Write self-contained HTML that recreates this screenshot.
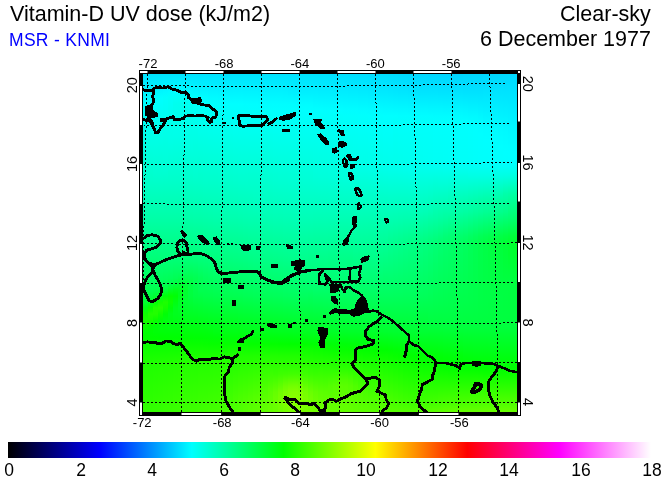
<!DOCTYPE html>
<html><head><meta charset="utf-8"><title>Vitamin-D UV dose</title>
<style>
html,body{margin:0;padding:0;background:#fff;}
body{width:665px;height:480px;position:relative;overflow:hidden;font-family:"Liberation Sans",sans-serif;color:#000;}
.t{position:absolute;white-space:nowrap;line-height:1;will-change:transform;}
#title{left:10px;top:4.3px;font-size:21.5px;}
#sub{left:8.6px;top:31.7px;font-size:17.5px;color:#0000ff;letter-spacing:0.3px;}
#r1{right:14px;top:4.3px;font-size:21.5px;}
#r2{right:14px;top:28.6px;font-size:21.5px;}
#cb{position:absolute;left:8px;top:442px;width:643px;height:16px;background:linear-gradient(to right,#000000 0.000%,#0000ff 14.286%,#00ffff 28.571%,#00ff00 42.857%,#ffff00 57.143%,#ff0000 71.429%,#ff00ff 85.714%,#ffffff 100.000%);}
.cl{will-change:transform;position:absolute;top:461.5px;font-size:17.5px;line-height:1;transform:translateX(-50%);white-space:nowrap;}
</style></head><body>
<div class="t" id="title">Vitamin-D UV dose (kJ/m2)</div>
<div class="t" id="sub">MSR - KNMI</div>
<div class="t" id="r1">Clear-sky</div>
<div class="t" id="r2">6 December 1977</div>
<svg width="665" height="480" viewBox="0 0 665 480" style="position:absolute;left:0;top:0;will-change:transform"><defs><linearGradient id="g0" x1="0" y1="0" x2="0" y2="1"><stop offset="0.000" stop-color="#00e3ff"/><stop offset="0.071" stop-color="#00fbff"/><stop offset="0.089" stop-color="#00fffe"/><stop offset="0.320" stop-color="#00ffc9"/><stop offset="0.426" stop-color="#00ffa8"/><stop offset="0.639" stop-color="#00ff50"/><stop offset="0.657" stop-color="#00ff43"/><stop offset="0.675" stop-color="#00ff30"/><stop offset="0.692" stop-color="#00ff11"/><stop offset="0.710" stop-color="#0fff00"/><stop offset="0.728" stop-color="#17ff00"/><stop offset="0.746" stop-color="#08ff00"/><stop offset="0.763" stop-color="#00ff01"/><stop offset="0.781" stop-color="#02ff00"/><stop offset="0.852" stop-color="#1eff00"/><stop offset="1.000" stop-color="#32ff00"/></linearGradient><linearGradient id="g1" x1="0" y1="0" x2="0" y2="1"><stop offset="0.000" stop-color="#00e3ff"/><stop offset="0.071" stop-color="#00fcff"/><stop offset="0.089" stop-color="#00fffd"/><stop offset="0.320" stop-color="#00ffc9"/><stop offset="0.426" stop-color="#00ffa8"/><stop offset="0.621" stop-color="#00ff59"/><stop offset="0.639" stop-color="#00ff50"/><stop offset="0.657" stop-color="#00ff3f"/><stop offset="0.675" stop-color="#00ff21"/><stop offset="0.692" stop-color="#09ff00"/><stop offset="0.710" stop-color="#21ff00"/><stop offset="0.728" stop-color="#16ff00"/><stop offset="0.746" stop-color="#01ff00"/><stop offset="0.763" stop-color="#00ff04"/><stop offset="0.781" stop-color="#01ff00"/><stop offset="0.852" stop-color="#1eff00"/><stop offset="1.000" stop-color="#32ff00"/></linearGradient><linearGradient id="g2" x1="0" y1="0" x2="0" y2="1"><stop offset="0.000" stop-color="#00e3ff"/><stop offset="0.071" stop-color="#00fdff"/><stop offset="0.089" stop-color="#00fffb"/><stop offset="0.302" stop-color="#00ffcf"/><stop offset="0.426" stop-color="#00ffa8"/><stop offset="0.621" stop-color="#00ff58"/><stop offset="0.639" stop-color="#00ff4d"/><stop offset="0.657" stop-color="#00ff34"/><stop offset="0.675" stop-color="#00ff08"/><stop offset="0.692" stop-color="#21ff00"/><stop offset="0.710" stop-color="#22ff00"/><stop offset="0.728" stop-color="#09ff00"/><stop offset="0.746" stop-color="#00ff07"/><stop offset="0.763" stop-color="#00ff07"/><stop offset="0.781" stop-color="#01ff00"/><stop offset="0.852" stop-color="#1fff00"/><stop offset="1.000" stop-color="#34ff00"/></linearGradient><linearGradient id="g3" x1="0" y1="0" x2="0" y2="1"><stop offset="0.000" stop-color="#00e3ff"/><stop offset="0.053" stop-color="#00f7ff"/><stop offset="0.071" stop-color="#00fffe"/><stop offset="0.302" stop-color="#00ffcf"/><stop offset="0.426" stop-color="#00ffa8"/><stop offset="0.550" stop-color="#00ff76"/><stop offset="0.621" stop-color="#00ff56"/><stop offset="0.639" stop-color="#00ff46"/><stop offset="0.657" stop-color="#00ff20"/><stop offset="0.675" stop-color="#13ff00"/><stop offset="0.692" stop-color="#26ff00"/><stop offset="0.710" stop-color="#11ff00"/><stop offset="0.728" stop-color="#00ff06"/><stop offset="0.746" stop-color="#00ff0d"/><stop offset="0.763" stop-color="#00ff08"/><stop offset="0.781" stop-color="#00ff00"/><stop offset="0.852" stop-color="#20ff00"/><stop offset="1.000" stop-color="#35ff00"/></linearGradient><linearGradient id="g4" x1="0" y1="0" x2="0" y2="1"><stop offset="0.000" stop-color="#00e3ff"/><stop offset="0.053" stop-color="#00f9ff"/><stop offset="0.071" stop-color="#00fffb"/><stop offset="0.284" stop-color="#00ffd4"/><stop offset="0.426" stop-color="#00ffa8"/><stop offset="0.550" stop-color="#00ff76"/><stop offset="0.621" stop-color="#00ff52"/><stop offset="0.639" stop-color="#00ff38"/><stop offset="0.657" stop-color="#00ff08"/><stop offset="0.675" stop-color="#1dff00"/><stop offset="0.692" stop-color="#14ff00"/><stop offset="0.710" stop-color="#00ff06"/><stop offset="0.728" stop-color="#00ff10"/><stop offset="0.763" stop-color="#00ff09"/><stop offset="0.781" stop-color="#00ff00"/><stop offset="0.799" stop-color="#09ff00"/><stop offset="0.852" stop-color="#20ff00"/><stop offset="1.000" stop-color="#37ff00"/></linearGradient><linearGradient id="g5" x1="0" y1="0" x2="0" y2="1"><stop offset="0.000" stop-color="#00e3ff"/><stop offset="0.053" stop-color="#00fbff"/><stop offset="0.071" stop-color="#00fff8"/><stop offset="0.107" stop-color="#00fff1"/><stop offset="0.195" stop-color="#00ffe6"/><stop offset="0.320" stop-color="#00ffc9"/><stop offset="0.426" stop-color="#00ffa8"/><stop offset="0.550" stop-color="#00ff76"/><stop offset="0.604" stop-color="#00ff59"/><stop offset="0.621" stop-color="#00ff4a"/><stop offset="0.639" stop-color="#00ff26"/><stop offset="0.657" stop-color="#04ff00"/><stop offset="0.675" stop-color="#0dff00"/><stop offset="0.692" stop-color="#00ff08"/><stop offset="0.710" stop-color="#00ff16"/><stop offset="0.746" stop-color="#00ff11"/><stop offset="0.781" stop-color="#00ff01"/><stop offset="0.799" stop-color="#09ff00"/><stop offset="0.852" stop-color="#21ff00"/><stop offset="1.000" stop-color="#38ff00"/></linearGradient><linearGradient id="g6" x1="0" y1="0" x2="0" y2="1"><stop offset="0.000" stop-color="#00e3ff"/><stop offset="0.053" stop-color="#00fcff"/><stop offset="0.071" stop-color="#00fff6"/><stop offset="0.089" stop-color="#00ffef"/><stop offset="0.178" stop-color="#00ffe9"/><stop offset="0.320" stop-color="#00ffc9"/><stop offset="0.426" stop-color="#00ffa8"/><stop offset="0.550" stop-color="#00ff75"/><stop offset="0.604" stop-color="#00ff55"/><stop offset="0.621" stop-color="#00ff40"/><stop offset="0.639" stop-color="#00ff1c"/><stop offset="0.657" stop-color="#00ff06"/><stop offset="0.692" stop-color="#00ff1d"/><stop offset="0.710" stop-color="#00ff1e"/><stop offset="0.781" stop-color="#00ff02"/><stop offset="0.799" stop-color="#09ff00"/><stop offset="0.852" stop-color="#22ff00"/><stop offset="1.000" stop-color="#3aff00"/></linearGradient><linearGradient id="g7" x1="0" y1="0" x2="0" y2="1"><stop offset="0.000" stop-color="#00e3ff"/><stop offset="0.053" stop-color="#00fdff"/><stop offset="0.071" stop-color="#00fff5"/><stop offset="0.089" stop-color="#00ffee"/><stop offset="0.178" stop-color="#00ffe9"/><stop offset="0.320" stop-color="#00ffc9"/><stop offset="0.426" stop-color="#00ffa8"/><stop offset="0.550" stop-color="#00ff75"/><stop offset="0.586" stop-color="#00ff60"/><stop offset="0.604" stop-color="#00ff50"/><stop offset="0.639" stop-color="#00ff20"/><stop offset="0.657" stop-color="#00ff1d"/><stop offset="0.675" stop-color="#00ff26"/><stop offset="0.692" stop-color="#00ff28"/><stop offset="0.781" stop-color="#00ff02"/><stop offset="0.799" stop-color="#09ff00"/><stop offset="0.852" stop-color="#23ff00"/><stop offset="1.000" stop-color="#3bff00"/></linearGradient><linearGradient id="g8" x1="0" y1="0" x2="0" y2="1"><stop offset="0.000" stop-color="#00e3ff"/><stop offset="0.053" stop-color="#00fcff"/><stop offset="0.071" stop-color="#00fff6"/><stop offset="0.089" stop-color="#00ffef"/><stop offset="0.178" stop-color="#00ffe9"/><stop offset="0.320" stop-color="#00ffc9"/><stop offset="0.426" stop-color="#00ffa8"/><stop offset="0.550" stop-color="#00ff75"/><stop offset="0.586" stop-color="#00ff5e"/><stop offset="0.621" stop-color="#00ff39"/><stop offset="0.639" stop-color="#00ff2f"/><stop offset="0.675" stop-color="#00ff33"/><stop offset="0.781" stop-color="#00ff02"/><stop offset="0.799" stop-color="#09ff00"/><stop offset="0.852" stop-color="#23ff00"/><stop offset="1.000" stop-color="#3cff00"/></linearGradient><linearGradient id="g9" x1="0" y1="0" x2="0" y2="1"><stop offset="0.000" stop-color="#00e3ff"/><stop offset="0.053" stop-color="#00faff"/><stop offset="0.071" stop-color="#00fff8"/><stop offset="0.107" stop-color="#00fff1"/><stop offset="0.213" stop-color="#00ffe1"/><stop offset="0.320" stop-color="#00ffc9"/><stop offset="0.426" stop-color="#00ffa9"/><stop offset="0.550" stop-color="#00ff75"/><stop offset="0.621" stop-color="#00ff42"/><stop offset="0.657" stop-color="#00ff3e"/><stop offset="0.781" stop-color="#00ff03"/><stop offset="0.799" stop-color="#08ff00"/><stop offset="0.852" stop-color="#23ff00"/><stop offset="1.000" stop-color="#3dff00"/></linearGradient><linearGradient id="g10" x1="0" y1="0" x2="0" y2="1"><stop offset="0.000" stop-color="#00e3ff"/><stop offset="0.053" stop-color="#00f8ff"/><stop offset="0.071" stop-color="#00fffb"/><stop offset="0.124" stop-color="#00fff1"/><stop offset="0.302" stop-color="#00ffcf"/><stop offset="0.426" stop-color="#00ffaa"/><stop offset="0.550" stop-color="#00ff76"/><stop offset="0.604" stop-color="#00ff52"/><stop offset="0.657" stop-color="#00ff44"/><stop offset="0.728" stop-color="#00ff1c"/><stop offset="0.781" stop-color="#00ff04"/><stop offset="0.799" stop-color="#08ff00"/><stop offset="0.852" stop-color="#23ff00"/><stop offset="1.000" stop-color="#3eff00"/></linearGradient><linearGradient id="g11" x1="0" y1="0" x2="0" y2="1"><stop offset="0.000" stop-color="#00e3ff"/><stop offset="0.053" stop-color="#00f6ff"/><stop offset="0.071" stop-color="#00ffff"/><stop offset="0.320" stop-color="#00ffca"/><stop offset="0.426" stop-color="#00ffaa"/><stop offset="0.550" stop-color="#00ff78"/><stop offset="0.604" stop-color="#00ff58"/><stop offset="0.639" stop-color="#00ff50"/><stop offset="0.728" stop-color="#00ff1e"/><stop offset="0.781" stop-color="#00ff04"/><stop offset="0.799" stop-color="#08ff00"/><stop offset="0.852" stop-color="#24ff00"/><stop offset="1.000" stop-color="#40ff00"/></linearGradient><linearGradient id="g12" x1="0" y1="0" x2="0" y2="1"><stop offset="0.000" stop-color="#00e3ff"/><stop offset="0.071" stop-color="#00fdff"/><stop offset="0.089" stop-color="#00fffb"/><stop offset="0.320" stop-color="#00ffcb"/><stop offset="0.426" stop-color="#00ffab"/><stop offset="0.550" stop-color="#00ff79"/><stop offset="0.604" stop-color="#00ff5d"/><stop offset="0.657" stop-color="#00ff49"/><stop offset="0.728" stop-color="#00ff1f"/><stop offset="0.781" stop-color="#00ff05"/><stop offset="0.799" stop-color="#07ff00"/><stop offset="0.852" stop-color="#24ff00"/><stop offset="1.000" stop-color="#41ff00"/></linearGradient><linearGradient id="g13" x1="0" y1="0" x2="0" y2="1"><stop offset="0.000" stop-color="#00e3ff"/><stop offset="0.071" stop-color="#00fbff"/><stop offset="0.089" stop-color="#00fffd"/><stop offset="0.320" stop-color="#00ffcb"/><stop offset="0.426" stop-color="#00ffac"/><stop offset="0.550" stop-color="#00ff7b"/><stop offset="0.604" stop-color="#00ff60"/><stop offset="0.657" stop-color="#00ff4a"/><stop offset="0.728" stop-color="#00ff21"/><stop offset="0.781" stop-color="#00ff06"/><stop offset="0.799" stop-color="#06ff00"/><stop offset="0.852" stop-color="#24ff00"/><stop offset="1.000" stop-color="#43ff00"/></linearGradient><linearGradient id="g14" x1="0" y1="0" x2="0" y2="1"><stop offset="0.000" stop-color="#00e3ff"/><stop offset="0.071" stop-color="#00fbff"/><stop offset="0.089" stop-color="#00fffe"/><stop offset="0.320" stop-color="#00ffcb"/><stop offset="0.426" stop-color="#00ffad"/><stop offset="0.550" stop-color="#00ff7c"/><stop offset="0.657" stop-color="#00ff4c"/><stop offset="0.728" stop-color="#00ff22"/><stop offset="0.763" stop-color="#00ff13"/><stop offset="0.781" stop-color="#00ff07"/><stop offset="0.799" stop-color="#06ff00"/><stop offset="0.852" stop-color="#25ff00"/><stop offset="1.000" stop-color="#44ff00"/></linearGradient><linearGradient id="g15" x1="0" y1="0" x2="0" y2="1"><stop offset="0.000" stop-color="#00e3ff"/><stop offset="0.071" stop-color="#00faff"/><stop offset="0.089" stop-color="#00fffe"/><stop offset="0.320" stop-color="#00ffcc"/><stop offset="0.426" stop-color="#00ffad"/><stop offset="0.550" stop-color="#00ff7d"/><stop offset="0.657" stop-color="#00ff4d"/><stop offset="0.728" stop-color="#00ff23"/><stop offset="0.763" stop-color="#00ff14"/><stop offset="0.781" stop-color="#00ff08"/><stop offset="0.799" stop-color="#06ff00"/><stop offset="0.852" stop-color="#25ff00"/><stop offset="1.000" stop-color="#46ff00"/></linearGradient><linearGradient id="g16" x1="0" y1="0" x2="0" y2="1"><stop offset="0.000" stop-color="#00e3ff"/><stop offset="0.071" stop-color="#00faff"/><stop offset="0.089" stop-color="#00ffff"/><stop offset="0.320" stop-color="#00ffcc"/><stop offset="0.426" stop-color="#00ffae"/><stop offset="0.550" stop-color="#00ff7e"/><stop offset="0.657" stop-color="#00ff4e"/><stop offset="0.728" stop-color="#00ff24"/><stop offset="0.763" stop-color="#00ff14"/><stop offset="0.781" stop-color="#00ff08"/><stop offset="0.799" stop-color="#05ff00"/><stop offset="0.852" stop-color="#25ff00"/><stop offset="1.000" stop-color="#47ff00"/></linearGradient><linearGradient id="g17" x1="0" y1="0" x2="0" y2="1"><stop offset="0.000" stop-color="#00e3ff"/><stop offset="0.071" stop-color="#00f9ff"/><stop offset="0.089" stop-color="#00ffff"/><stop offset="0.320" stop-color="#00ffcc"/><stop offset="0.426" stop-color="#00ffaf"/><stop offset="0.550" stop-color="#00ff7f"/><stop offset="0.657" stop-color="#00ff4f"/><stop offset="0.728" stop-color="#00ff25"/><stop offset="0.763" stop-color="#00ff15"/><stop offset="0.781" stop-color="#00ff09"/><stop offset="0.799" stop-color="#05ff00"/><stop offset="0.834" stop-color="#1eff00"/><stop offset="0.976" stop-color="#45ff00"/><stop offset="1.000" stop-color="#49ff00"/></linearGradient><linearGradient id="g18" x1="0" y1="0" x2="0" y2="1"><stop offset="0.000" stop-color="#00e3ff"/><stop offset="0.089" stop-color="#00ffff"/><stop offset="0.107" stop-color="#00fffc"/><stop offset="0.320" stop-color="#00ffcd"/><stop offset="0.426" stop-color="#00ffaf"/><stop offset="0.550" stop-color="#00ff80"/><stop offset="0.657" stop-color="#00ff50"/><stop offset="0.728" stop-color="#00ff26"/><stop offset="0.763" stop-color="#00ff16"/><stop offset="0.781" stop-color="#00ff09"/><stop offset="0.799" stop-color="#05ff00"/><stop offset="0.834" stop-color="#1eff00"/><stop offset="0.959" stop-color="#46ff00"/><stop offset="1.000" stop-color="#4dff00"/></linearGradient><linearGradient id="g19" x1="0" y1="0" x2="0" y2="1"><stop offset="0.000" stop-color="#00e3ff"/><stop offset="0.089" stop-color="#00ffff"/><stop offset="0.107" stop-color="#00fffc"/><stop offset="0.320" stop-color="#00ffce"/><stop offset="0.426" stop-color="#00ffb0"/><stop offset="0.550" stop-color="#00ff81"/><stop offset="0.657" stop-color="#00ff51"/><stop offset="0.781" stop-color="#00ff0a"/><stop offset="0.799" stop-color="#05ff00"/><stop offset="0.834" stop-color="#1fff00"/><stop offset="0.959" stop-color="#4aff00"/><stop offset="1.000" stop-color="#51ff00"/></linearGradient><linearGradient id="g20" x1="0" y1="0" x2="0" y2="1"><stop offset="0.000" stop-color="#00e3ff"/><stop offset="0.089" stop-color="#00feff"/><stop offset="0.107" stop-color="#00fffc"/><stop offset="0.320" stop-color="#00ffce"/><stop offset="0.426" stop-color="#00ffb1"/><stop offset="0.550" stop-color="#00ff82"/><stop offset="0.657" stop-color="#00ff53"/><stop offset="0.728" stop-color="#00ff29"/><stop offset="0.763" stop-color="#00ff18"/><stop offset="0.781" stop-color="#00ff0a"/><stop offset="0.799" stop-color="#05ff00"/><stop offset="0.834" stop-color="#1fff00"/><stop offset="0.959" stop-color="#4dff00"/><stop offset="1.000" stop-color="#55ff00"/></linearGradient><linearGradient id="g21" x1="0" y1="0" x2="0" y2="1"><stop offset="0.000" stop-color="#00e3ff"/><stop offset="0.089" stop-color="#00feff"/><stop offset="0.107" stop-color="#00fffd"/><stop offset="0.337" stop-color="#00ffca"/><stop offset="0.426" stop-color="#00ffb2"/><stop offset="0.550" stop-color="#00ff84"/><stop offset="0.657" stop-color="#00ff54"/><stop offset="0.728" stop-color="#00ff2a"/><stop offset="0.763" stop-color="#00ff19"/><stop offset="0.781" stop-color="#00ff0b"/><stop offset="0.799" stop-color="#04ff00"/><stop offset="0.834" stop-color="#1fff00"/><stop offset="0.959" stop-color="#51ff00"/><stop offset="1.000" stop-color="#59ff00"/></linearGradient><linearGradient id="g22" x1="0" y1="0" x2="0" y2="1"><stop offset="0.000" stop-color="#00e3ff"/><stop offset="0.089" stop-color="#00feff"/><stop offset="0.107" stop-color="#00fffd"/><stop offset="0.391" stop-color="#00ffbe"/><stop offset="0.550" stop-color="#00ff85"/><stop offset="0.657" stop-color="#00ff56"/><stop offset="0.728" stop-color="#00ff2b"/><stop offset="0.763" stop-color="#00ff19"/><stop offset="0.781" stop-color="#00ff0b"/><stop offset="0.799" stop-color="#04ff00"/><stop offset="0.834" stop-color="#20ff00"/><stop offset="0.959" stop-color="#55ff00"/><stop offset="1.000" stop-color="#5cff00"/></linearGradient><linearGradient id="g23" x1="0" y1="0" x2="0" y2="1"><stop offset="0.000" stop-color="#00e3ff"/><stop offset="0.089" stop-color="#00fdff"/><stop offset="0.107" stop-color="#00fffd"/><stop offset="0.391" stop-color="#00ffbf"/><stop offset="0.550" stop-color="#00ff86"/><stop offset="0.657" stop-color="#00ff57"/><stop offset="0.728" stop-color="#00ff2c"/><stop offset="0.763" stop-color="#00ff1a"/><stop offset="0.781" stop-color="#00ff0c"/><stop offset="0.799" stop-color="#04ff00"/><stop offset="0.834" stop-color="#20ff00"/><stop offset="0.959" stop-color="#58ff00"/><stop offset="1.000" stop-color="#5fff00"/></linearGradient><linearGradient id="g24" x1="0" y1="0" x2="0" y2="1"><stop offset="0.000" stop-color="#00e3ff"/><stop offset="0.089" stop-color="#00fdff"/><stop offset="0.107" stop-color="#00fffd"/><stop offset="0.391" stop-color="#00ffbf"/><stop offset="0.550" stop-color="#00ff86"/><stop offset="0.657" stop-color="#00ff57"/><stop offset="0.728" stop-color="#00ff2c"/><stop offset="0.763" stop-color="#00ff1a"/><stop offset="0.781" stop-color="#00ff0c"/><stop offset="0.799" stop-color="#04ff00"/><stop offset="0.834" stop-color="#20ff00"/><stop offset="0.959" stop-color="#5bff00"/><stop offset="1.000" stop-color="#61ff00"/></linearGradient><linearGradient id="g25" x1="0" y1="0" x2="0" y2="1"><stop offset="0.000" stop-color="#00e3ff"/><stop offset="0.089" stop-color="#00fdff"/><stop offset="0.107" stop-color="#00fffd"/><stop offset="0.320" stop-color="#00ffd0"/><stop offset="0.426" stop-color="#00ffb4"/><stop offset="0.550" stop-color="#00ff87"/><stop offset="0.657" stop-color="#00ff58"/><stop offset="0.728" stop-color="#00ff2d"/><stop offset="0.763" stop-color="#00ff1b"/><stop offset="0.781" stop-color="#00ff0d"/><stop offset="0.799" stop-color="#03ff00"/><stop offset="0.834" stop-color="#20ff00"/><stop offset="0.905" stop-color="#44ff00"/><stop offset="0.941" stop-color="#5bff00"/><stop offset="0.976" stop-color="#63ff00"/><stop offset="1.000" stop-color="#65ff00"/></linearGradient><linearGradient id="g26" x1="0" y1="0" x2="0" y2="1"><stop offset="0.000" stop-color="#00e3ff"/><stop offset="0.089" stop-color="#00fdff"/><stop offset="0.107" stop-color="#00fffe"/><stop offset="0.320" stop-color="#00ffd1"/><stop offset="0.426" stop-color="#00ffb5"/><stop offset="0.550" stop-color="#00ff88"/><stop offset="0.657" stop-color="#00ff59"/><stop offset="0.728" stop-color="#00ff2e"/><stop offset="0.763" stop-color="#00ff1c"/><stop offset="0.781" stop-color="#00ff0d"/><stop offset="0.799" stop-color="#03ff00"/><stop offset="0.834" stop-color="#20ff00"/><stop offset="0.888" stop-color="#3aff00"/><stop offset="0.941" stop-color="#64ff00"/><stop offset="0.959" stop-color="#6aff00"/><stop offset="1.000" stop-color="#69ff00"/></linearGradient><linearGradient id="g27" x1="0" y1="0" x2="0" y2="1"><stop offset="0.000" stop-color="#00e3ff"/><stop offset="0.089" stop-color="#00fdff"/><stop offset="0.107" stop-color="#00fffe"/><stop offset="0.320" stop-color="#00ffd2"/><stop offset="0.426" stop-color="#00ffb5"/><stop offset="0.550" stop-color="#00ff89"/><stop offset="0.657" stop-color="#00ff5a"/><stop offset="0.728" stop-color="#00ff2f"/><stop offset="0.763" stop-color="#00ff1d"/><stop offset="0.781" stop-color="#00ff0e"/><stop offset="0.799" stop-color="#02ff00"/><stop offset="0.834" stop-color="#1fff00"/><stop offset="0.888" stop-color="#3dff00"/><stop offset="0.941" stop-color="#70ff00"/><stop offset="0.959" stop-color="#75ff00"/><stop offset="1.000" stop-color="#6fff00"/></linearGradient><linearGradient id="g28" x1="0" y1="0" x2="0" y2="1"><stop offset="0.000" stop-color="#00e3ff"/><stop offset="0.071" stop-color="#00f7ff"/><stop offset="0.089" stop-color="#00fdff"/><stop offset="0.107" stop-color="#00fffe"/><stop offset="0.320" stop-color="#00ffd2"/><stop offset="0.426" stop-color="#00ffb6"/><stop offset="0.550" stop-color="#00ff8a"/><stop offset="0.657" stop-color="#00ff5c"/><stop offset="0.728" stop-color="#00ff30"/><stop offset="0.763" stop-color="#00ff1d"/><stop offset="0.781" stop-color="#00ff0f"/><stop offset="0.799" stop-color="#02ff00"/><stop offset="0.834" stop-color="#1fff00"/><stop offset="0.870" stop-color="#31ff00"/><stop offset="0.888" stop-color="#3fff00"/><stop offset="0.923" stop-color="#6bff00"/><stop offset="0.941" stop-color="#7bff00"/><stop offset="0.959" stop-color="#80ff00"/><stop offset="1.000" stop-color="#74ff00"/></linearGradient><linearGradient id="g29" x1="0" y1="0" x2="0" y2="1"><stop offset="0.000" stop-color="#00e3ff"/><stop offset="0.053" stop-color="#00f0ff"/><stop offset="0.089" stop-color="#00fdff"/><stop offset="0.107" stop-color="#00fffe"/><stop offset="0.320" stop-color="#00ffd3"/><stop offset="0.426" stop-color="#00ffb6"/><stop offset="0.550" stop-color="#00ff8b"/><stop offset="0.657" stop-color="#00ff5d"/><stop offset="0.728" stop-color="#00ff31"/><stop offset="0.763" stop-color="#00ff1e"/><stop offset="0.781" stop-color="#00ff0f"/><stop offset="0.799" stop-color="#01ff00"/><stop offset="0.834" stop-color="#1fff00"/><stop offset="0.870" stop-color="#32ff00"/><stop offset="0.888" stop-color="#41ff00"/><stop offset="0.923" stop-color="#71ff00"/><stop offset="0.941" stop-color="#83ff00"/><stop offset="0.959" stop-color="#87ff00"/><stop offset="1.000" stop-color="#78ff00"/></linearGradient><linearGradient id="g30" x1="0" y1="0" x2="0" y2="1"><stop offset="0.000" stop-color="#00e3ff"/><stop offset="0.053" stop-color="#00efff"/><stop offset="0.089" stop-color="#00fcff"/><stop offset="0.107" stop-color="#00fffe"/><stop offset="0.320" stop-color="#00ffd3"/><stop offset="0.426" stop-color="#00ffb7"/><stop offset="0.550" stop-color="#00ff8b"/><stop offset="0.657" stop-color="#00ff5e"/><stop offset="0.728" stop-color="#00ff32"/><stop offset="0.763" stop-color="#00ff1f"/><stop offset="0.781" stop-color="#00ff10"/><stop offset="0.799" stop-color="#01ff00"/><stop offset="0.834" stop-color="#1fff00"/><stop offset="0.870" stop-color="#32ff00"/><stop offset="0.888" stop-color="#42ff00"/><stop offset="0.923" stop-color="#72ff00"/><stop offset="0.941" stop-color="#84ff00"/><stop offset="0.959" stop-color="#89ff00"/><stop offset="1.000" stop-color="#7bff00"/></linearGradient><linearGradient id="g31" x1="0" y1="0" x2="0" y2="1"><stop offset="0.000" stop-color="#00e3ff"/><stop offset="0.053" stop-color="#00efff"/><stop offset="0.089" stop-color="#00fcff"/><stop offset="0.107" stop-color="#00fffe"/><stop offset="0.320" stop-color="#00ffd3"/><stop offset="0.426" stop-color="#00ffb7"/><stop offset="0.550" stop-color="#00ff8c"/><stop offset="0.657" stop-color="#00ff5e"/><stop offset="0.728" stop-color="#00ff32"/><stop offset="0.763" stop-color="#00ff1f"/><stop offset="0.781" stop-color="#00ff10"/><stop offset="0.799" stop-color="#01ff00"/><stop offset="0.834" stop-color="#1eff00"/><stop offset="0.870" stop-color="#31ff00"/><stop offset="0.888" stop-color="#41ff00"/><stop offset="0.923" stop-color="#6dff00"/><stop offset="0.941" stop-color="#7fff00"/><stop offset="0.959" stop-color="#85ff00"/><stop offset="1.000" stop-color="#7bff00"/></linearGradient><linearGradient id="g32" x1="0" y1="0" x2="0" y2="1"><stop offset="0.000" stop-color="#00e3ff"/><stop offset="0.053" stop-color="#00efff"/><stop offset="0.089" stop-color="#00fcff"/><stop offset="0.107" stop-color="#00ffff"/><stop offset="0.320" stop-color="#00ffd4"/><stop offset="0.426" stop-color="#00ffb7"/><stop offset="0.550" stop-color="#00ff8c"/><stop offset="0.657" stop-color="#00ff5e"/><stop offset="0.728" stop-color="#00ff33"/><stop offset="0.763" stop-color="#00ff20"/><stop offset="0.799" stop-color="#00ff00"/><stop offset="0.817" stop-color="#10ff00"/><stop offset="0.888" stop-color="#3eff00"/><stop offset="0.941" stop-color="#74ff00"/><stop offset="0.959" stop-color="#7bff00"/><stop offset="1.000" stop-color="#78ff00"/></linearGradient><linearGradient id="g33" x1="0" y1="0" x2="0" y2="1"><stop offset="0.000" stop-color="#00e3ff"/><stop offset="0.053" stop-color="#00efff"/><stop offset="0.089" stop-color="#00fcff"/><stop offset="0.107" stop-color="#00ffff"/><stop offset="0.320" stop-color="#00ffd4"/><stop offset="0.426" stop-color="#00ffb7"/><stop offset="0.621" stop-color="#00ff70"/><stop offset="0.763" stop-color="#00ff21"/><stop offset="0.799" stop-color="#00ff02"/><stop offset="0.817" stop-color="#0fff00"/><stop offset="0.888" stop-color="#3aff00"/><stop offset="0.941" stop-color="#69ff00"/><stop offset="0.959" stop-color="#71ff00"/><stop offset="1.000" stop-color="#75ff00"/></linearGradient><linearGradient id="g34" x1="0" y1="0" x2="0" y2="1"><stop offset="0.000" stop-color="#00e2ff"/><stop offset="0.053" stop-color="#00efff"/><stop offset="0.107" stop-color="#00ffff"/><stop offset="0.124" stop-color="#00fffa"/><stop offset="0.302" stop-color="#00ffda"/><stop offset="0.426" stop-color="#00ffb6"/><stop offset="0.639" stop-color="#00ff69"/><stop offset="0.728" stop-color="#00ff35"/><stop offset="0.763" stop-color="#00ff22"/><stop offset="0.799" stop-color="#00ff03"/><stop offset="0.817" stop-color="#0dff00"/><stop offset="0.888" stop-color="#38ff00"/><stop offset="0.941" stop-color="#61ff00"/><stop offset="0.976" stop-color="#6dff00"/><stop offset="1.000" stop-color="#71ff00"/></linearGradient><linearGradient id="g35" x1="0" y1="0" x2="0" y2="1"><stop offset="0.000" stop-color="#00e2ff"/><stop offset="0.053" stop-color="#00eeff"/><stop offset="0.107" stop-color="#00ffff"/><stop offset="0.124" stop-color="#00fffa"/><stop offset="0.302" stop-color="#00ffdb"/><stop offset="0.426" stop-color="#00ffb6"/><stop offset="0.639" stop-color="#00ff69"/><stop offset="0.728" stop-color="#00ff36"/><stop offset="0.763" stop-color="#00ff24"/><stop offset="0.799" stop-color="#00ff04"/><stop offset="0.817" stop-color="#0cff00"/><stop offset="0.905" stop-color="#44ff00"/><stop offset="0.941" stop-color="#5cff00"/><stop offset="1.000" stop-color="#6dff00"/></linearGradient><linearGradient id="g36" x1="0" y1="0" x2="0" y2="1"><stop offset="0.000" stop-color="#00e2ff"/><stop offset="0.053" stop-color="#00eeff"/><stop offset="0.107" stop-color="#00feff"/><stop offset="0.124" stop-color="#00fffb"/><stop offset="0.302" stop-color="#00ffdb"/><stop offset="0.426" stop-color="#00ffb6"/><stop offset="0.639" stop-color="#00ff69"/><stop offset="0.763" stop-color="#00ff25"/><stop offset="0.799" stop-color="#00ff06"/><stop offset="0.817" stop-color="#0aff00"/><stop offset="0.941" stop-color="#5aff00"/><stop offset="1.000" stop-color="#6aff00"/></linearGradient><linearGradient id="g37" x1="0" y1="0" x2="0" y2="1"><stop offset="0.000" stop-color="#00e1ff"/><stop offset="0.053" stop-color="#00eeff"/><stop offset="0.107" stop-color="#00feff"/><stop offset="0.124" stop-color="#00fffb"/><stop offset="0.302" stop-color="#00ffdc"/><stop offset="0.426" stop-color="#00ffb6"/><stop offset="0.657" stop-color="#00ff60"/><stop offset="0.763" stop-color="#00ff26"/><stop offset="0.799" stop-color="#00ff07"/><stop offset="0.817" stop-color="#09ff00"/><stop offset="0.888" stop-color="#38ff00"/><stop offset="0.923" stop-color="#53ff00"/><stop offset="1.000" stop-color="#67ff00"/></linearGradient><linearGradient id="g38" x1="0" y1="0" x2="0" y2="1"><stop offset="0.000" stop-color="#00e1ff"/><stop offset="0.053" stop-color="#00edff"/><stop offset="0.107" stop-color="#00feff"/><stop offset="0.124" stop-color="#00fffb"/><stop offset="0.302" stop-color="#00ffdc"/><stop offset="0.426" stop-color="#00ffb5"/><stop offset="0.497" stop-color="#00ff99"/><stop offset="0.639" stop-color="#00ff6a"/><stop offset="0.763" stop-color="#00ff27"/><stop offset="0.799" stop-color="#00ff08"/><stop offset="0.817" stop-color="#08ff00"/><stop offset="0.870" stop-color="#2aff00"/><stop offset="0.923" stop-color="#57ff00"/><stop offset="1.000" stop-color="#65ff00"/></linearGradient><linearGradient id="g39" x1="0" y1="0" x2="0" y2="1"><stop offset="0.000" stop-color="#00e1ff"/><stop offset="0.053" stop-color="#00edff"/><stop offset="0.107" stop-color="#00feff"/><stop offset="0.124" stop-color="#00fffb"/><stop offset="0.302" stop-color="#00ffdc"/><stop offset="0.426" stop-color="#00ffb5"/><stop offset="0.497" stop-color="#00ff99"/><stop offset="0.639" stop-color="#00ff69"/><stop offset="0.763" stop-color="#00ff28"/><stop offset="0.799" stop-color="#00ff09"/><stop offset="0.817" stop-color="#07ff00"/><stop offset="0.870" stop-color="#2bff00"/><stop offset="0.905" stop-color="#4eff00"/><stop offset="0.923" stop-color="#5bff00"/><stop offset="1.000" stop-color="#64ff00"/></linearGradient><linearGradient id="g40" x1="0" y1="0" x2="0" y2="1"><stop offset="0.000" stop-color="#00e0ff"/><stop offset="0.053" stop-color="#00edff"/><stop offset="0.107" stop-color="#00fdff"/><stop offset="0.124" stop-color="#00fffc"/><stop offset="0.302" stop-color="#00ffdd"/><stop offset="0.426" stop-color="#00ffb5"/><stop offset="0.497" stop-color="#00ff99"/><stop offset="0.639" stop-color="#00ff69"/><stop offset="0.763" stop-color="#00ff28"/><stop offset="0.799" stop-color="#00ff09"/><stop offset="0.817" stop-color="#07ff00"/><stop offset="0.870" stop-color="#2aff00"/><stop offset="0.905" stop-color="#4eff00"/><stop offset="0.923" stop-color="#5aff00"/><stop offset="1.000" stop-color="#63ff00"/></linearGradient><linearGradient id="g41" x1="0" y1="0" x2="0" y2="1"><stop offset="0.000" stop-color="#00e0ff"/><stop offset="0.053" stop-color="#00ecff"/><stop offset="0.107" stop-color="#00fdff"/><stop offset="0.124" stop-color="#00fffc"/><stop offset="0.284" stop-color="#00ffe3"/><stop offset="0.426" stop-color="#00ffb5"/><stop offset="0.586" stop-color="#00ff79"/><stop offset="0.657" stop-color="#00ff60"/><stop offset="0.763" stop-color="#00ff29"/><stop offset="0.799" stop-color="#00ff0a"/><stop offset="0.817" stop-color="#06ff00"/><stop offset="0.870" stop-color="#28ff00"/><stop offset="0.905" stop-color="#4aff00"/><stop offset="0.923" stop-color="#56ff00"/><stop offset="1.000" stop-color="#62ff00"/></linearGradient><linearGradient id="g42" x1="0" y1="0" x2="0" y2="1"><stop offset="0.000" stop-color="#00dfff"/><stop offset="0.053" stop-color="#00ecff"/><stop offset="0.107" stop-color="#00fdff"/><stop offset="0.124" stop-color="#00fffc"/><stop offset="0.284" stop-color="#00ffe4"/><stop offset="0.533" stop-color="#00ff8f"/><stop offset="0.657" stop-color="#00ff60"/><stop offset="0.763" stop-color="#00ff29"/><stop offset="0.799" stop-color="#00ff0b"/><stop offset="0.817" stop-color="#05ff00"/><stop offset="0.888" stop-color="#34ff00"/><stop offset="0.923" stop-color="#4fff00"/><stop offset="1.000" stop-color="#60ff00"/></linearGradient><linearGradient id="g43" x1="0" y1="0" x2="0" y2="1"><stop offset="0.000" stop-color="#00dfff"/><stop offset="0.053" stop-color="#00ebff"/><stop offset="0.107" stop-color="#00fcff"/><stop offset="0.124" stop-color="#00fffd"/><stop offset="0.284" stop-color="#00ffe5"/><stop offset="0.515" stop-color="#00ff95"/><stop offset="0.657" stop-color="#00ff5f"/><stop offset="0.763" stop-color="#00ff2a"/><stop offset="0.799" stop-color="#00ff0c"/><stop offset="0.817" stop-color="#04ff00"/><stop offset="0.905" stop-color="#3cff00"/><stop offset="0.941" stop-color="#4fff00"/><stop offset="1.000" stop-color="#5eff00"/></linearGradient><linearGradient id="g44" x1="0" y1="0" x2="0" y2="1"><stop offset="0.000" stop-color="#00deff"/><stop offset="0.053" stop-color="#00ebff"/><stop offset="0.107" stop-color="#00fcff"/><stop offset="0.124" stop-color="#00fffd"/><stop offset="0.284" stop-color="#00ffe5"/><stop offset="0.550" stop-color="#00ff88"/><stop offset="0.657" stop-color="#00ff5f"/><stop offset="0.763" stop-color="#00ff2b"/><stop offset="0.799" stop-color="#00ff0d"/><stop offset="0.817" stop-color="#03ff00"/><stop offset="0.941" stop-color="#4aff00"/><stop offset="1.000" stop-color="#5dff00"/></linearGradient><linearGradient id="g45" x1="0" y1="0" x2="0" y2="1"><stop offset="0.000" stop-color="#00ddff"/><stop offset="0.053" stop-color="#00eaff"/><stop offset="0.107" stop-color="#00fbff"/><stop offset="0.124" stop-color="#00fffe"/><stop offset="0.284" stop-color="#00ffe6"/><stop offset="0.639" stop-color="#00ff67"/><stop offset="0.763" stop-color="#00ff2b"/><stop offset="0.799" stop-color="#00ff0d"/><stop offset="0.817" stop-color="#02ff00"/><stop offset="0.852" stop-color="#18ff00"/><stop offset="0.959" stop-color="#4eff00"/><stop offset="1.000" stop-color="#5bff00"/></linearGradient><linearGradient id="g46" x1="0" y1="0" x2="0" y2="1"><stop offset="0.000" stop-color="#00ddff"/><stop offset="0.053" stop-color="#00eaff"/><stop offset="0.107" stop-color="#00fbff"/><stop offset="0.124" stop-color="#00fffe"/><stop offset="0.284" stop-color="#00ffe7"/><stop offset="0.639" stop-color="#00ff67"/><stop offset="0.763" stop-color="#00ff2c"/><stop offset="0.799" stop-color="#00ff0e"/><stop offset="0.817" stop-color="#01ff00"/><stop offset="0.852" stop-color="#17ff00"/><stop offset="0.959" stop-color="#4dff00"/><stop offset="1.000" stop-color="#5aff00"/></linearGradient><linearGradient id="g47" x1="0" y1="0" x2="0" y2="1"><stop offset="0.000" stop-color="#00ddff"/><stop offset="0.053" stop-color="#00e9ff"/><stop offset="0.107" stop-color="#00fbff"/><stop offset="0.124" stop-color="#00fffe"/><stop offset="0.284" stop-color="#00ffe7"/><stop offset="0.657" stop-color="#00ff5e"/><stop offset="0.763" stop-color="#00ff2c"/><stop offset="0.799" stop-color="#00ff0f"/><stop offset="0.817" stop-color="#00ff00"/><stop offset="0.852" stop-color="#16ff00"/><stop offset="0.959" stop-color="#4bff00"/><stop offset="1.000" stop-color="#5aff00"/></linearGradient><linearGradient id="g48" x1="0" y1="0" x2="0" y2="1"><stop offset="0.000" stop-color="#00dcff"/><stop offset="0.053" stop-color="#00e9ff"/><stop offset="0.107" stop-color="#00faff"/><stop offset="0.124" stop-color="#00ffff"/><stop offset="0.284" stop-color="#00ffe8"/><stop offset="0.604" stop-color="#00ff6f"/><stop offset="0.657" stop-color="#00ff5e"/><stop offset="0.763" stop-color="#00ff2d"/><stop offset="0.817" stop-color="#00ff01"/><stop offset="0.834" stop-color="#0bff00"/><stop offset="0.905" stop-color="#2dff00"/><stop offset="0.959" stop-color="#49ff00"/><stop offset="1.000" stop-color="#59ff00"/></linearGradient><linearGradient id="g49" x1="0" y1="0" x2="0" y2="1"><stop offset="0.000" stop-color="#00dbff"/><stop offset="0.053" stop-color="#00e8ff"/><stop offset="0.107" stop-color="#00faff"/><stop offset="0.124" stop-color="#00ffff"/><stop offset="0.284" stop-color="#00ffe9"/><stop offset="0.426" stop-color="#00ffb3"/><stop offset="0.497" stop-color="#00ff93"/><stop offset="0.657" stop-color="#00ff5e"/><stop offset="0.763" stop-color="#00ff2e"/><stop offset="0.817" stop-color="#00ff03"/><stop offset="0.834" stop-color="#09ff00"/><stop offset="1.000" stop-color="#58ff00"/></linearGradient><linearGradient id="g50" x1="0" y1="0" x2="0" y2="1"><stop offset="0.000" stop-color="#00daff"/><stop offset="0.053" stop-color="#00e7ff"/><stop offset="0.124" stop-color="#00ffff"/><stop offset="0.142" stop-color="#00fffa"/><stop offset="0.284" stop-color="#00ffe9"/><stop offset="0.426" stop-color="#00ffb2"/><stop offset="0.497" stop-color="#00ff90"/><stop offset="0.657" stop-color="#00ff5d"/><stop offset="0.763" stop-color="#00ff2f"/><stop offset="0.817" stop-color="#00ff05"/><stop offset="0.834" stop-color="#07ff00"/><stop offset="0.976" stop-color="#49ff00"/><stop offset="1.000" stop-color="#58ff00"/></linearGradient><linearGradient id="g51" x1="0" y1="0" x2="0" y2="1"><stop offset="0.000" stop-color="#00d9ff"/><stop offset="0.053" stop-color="#00e6ff"/><stop offset="0.107" stop-color="#00f9ff"/><stop offset="0.124" stop-color="#00feff"/><stop offset="0.142" stop-color="#00fffb"/><stop offset="0.284" stop-color="#00ffea"/><stop offset="0.426" stop-color="#00ffb1"/><stop offset="0.497" stop-color="#00ff8d"/><stop offset="0.657" stop-color="#00ff5d"/><stop offset="0.763" stop-color="#00ff30"/><stop offset="0.817" stop-color="#00ff07"/><stop offset="0.834" stop-color="#05ff00"/><stop offset="0.976" stop-color="#46ff00"/><stop offset="1.000" stop-color="#57ff00"/></linearGradient><linearGradient id="g52" x1="0" y1="0" x2="0" y2="1"><stop offset="0.000" stop-color="#00d8ff"/><stop offset="0.053" stop-color="#00e6ff"/><stop offset="0.107" stop-color="#00f9ff"/><stop offset="0.124" stop-color="#00feff"/><stop offset="0.142" stop-color="#00fffb"/><stop offset="0.284" stop-color="#00ffeb"/><stop offset="0.426" stop-color="#00ffb0"/><stop offset="0.497" stop-color="#00ff8a"/><stop offset="0.657" stop-color="#00ff5c"/><stop offset="0.763" stop-color="#00ff31"/><stop offset="0.817" stop-color="#00ff09"/><stop offset="0.834" stop-color="#02ff00"/><stop offset="0.976" stop-color="#43ff00"/><stop offset="1.000" stop-color="#56ff00"/></linearGradient><linearGradient id="g53" x1="0" y1="0" x2="0" y2="1"><stop offset="0.000" stop-color="#00d7ff"/><stop offset="0.053" stop-color="#00e5ff"/><stop offset="0.107" stop-color="#00f8ff"/><stop offset="0.124" stop-color="#00feff"/><stop offset="0.142" stop-color="#00fffb"/><stop offset="0.284" stop-color="#00ffec"/><stop offset="0.426" stop-color="#00ffb0"/><stop offset="0.497" stop-color="#00ff87"/><stop offset="0.657" stop-color="#00ff5c"/><stop offset="0.763" stop-color="#00ff32"/><stop offset="0.817" stop-color="#00ff0b"/><stop offset="0.834" stop-color="#01ff00"/><stop offset="0.976" stop-color="#41ff00"/><stop offset="1.000" stop-color="#55ff00"/></linearGradient><linearGradient id="g54" x1="0" y1="0" x2="0" y2="1"><stop offset="0.000" stop-color="#00d7ff"/><stop offset="0.053" stop-color="#00e5ff"/><stop offset="0.107" stop-color="#00f8ff"/><stop offset="0.124" stop-color="#00fdff"/><stop offset="0.142" stop-color="#00fffc"/><stop offset="0.284" stop-color="#00ffec"/><stop offset="0.426" stop-color="#00ffaf"/><stop offset="0.497" stop-color="#00ff86"/><stop offset="0.657" stop-color="#00ff5b"/><stop offset="0.763" stop-color="#00ff32"/><stop offset="0.834" stop-color="#00ff01"/><stop offset="0.852" stop-color="#07ff00"/><stop offset="0.976" stop-color="#40ff00"/><stop offset="1.000" stop-color="#55ff00"/></linearGradient><linearGradient id="g55" x1="0" y1="0" x2="0" y2="1"><stop offset="0.000" stop-color="#00d7ff"/><stop offset="0.053" stop-color="#00e4ff"/><stop offset="0.107" stop-color="#00f8ff"/><stop offset="0.124" stop-color="#00fdff"/><stop offset="0.142" stop-color="#00fffc"/><stop offset="0.266" stop-color="#00fff1"/><stop offset="0.408" stop-color="#00ffb8"/><stop offset="0.497" stop-color="#00ff83"/><stop offset="0.657" stop-color="#00ff5a"/><stop offset="0.763" stop-color="#00ff33"/><stop offset="0.834" stop-color="#00ff02"/><stop offset="0.852" stop-color="#06ff00"/><stop offset="0.976" stop-color="#41ff00"/><stop offset="1.000" stop-color="#56ff00"/></linearGradient><linearGradient id="g56" x1="0" y1="0" x2="0" y2="1"><stop offset="0.000" stop-color="#00d7ff"/><stop offset="0.053" stop-color="#00e4ff"/><stop offset="0.107" stop-color="#00f8ff"/><stop offset="0.124" stop-color="#00fdff"/><stop offset="0.142" stop-color="#00fffc"/><stop offset="0.266" stop-color="#00fff2"/><stop offset="0.408" stop-color="#00ffb6"/><stop offset="0.497" stop-color="#00ff7f"/><stop offset="0.657" stop-color="#00ff59"/><stop offset="0.763" stop-color="#00ff33"/><stop offset="0.834" stop-color="#00ff03"/><stop offset="0.852" stop-color="#04ff00"/><stop offset="0.976" stop-color="#42ff00"/><stop offset="1.000" stop-color="#58ff00"/></linearGradient><linearGradient id="g57" x1="0" y1="0" x2="0" y2="1"><stop offset="0.000" stop-color="#00d6ff"/><stop offset="0.053" stop-color="#00e4ff"/><stop offset="0.107" stop-color="#00f7ff"/><stop offset="0.124" stop-color="#00fdff"/><stop offset="0.142" stop-color="#00fffc"/><stop offset="0.266" stop-color="#00fff3"/><stop offset="0.408" stop-color="#00ffb3"/><stop offset="0.497" stop-color="#00ff7b"/><stop offset="0.657" stop-color="#00ff57"/><stop offset="0.746" stop-color="#00ff3d"/><stop offset="0.834" stop-color="#00ff05"/><stop offset="0.852" stop-color="#03ff00"/><stop offset="0.976" stop-color="#44ff00"/><stop offset="1.000" stop-color="#5bff00"/></linearGradient><linearGradient id="g58" x1="0" y1="0" x2="0" y2="1"><stop offset="0.000" stop-color="#00d6ff"/><stop offset="0.053" stop-color="#00e4ff"/><stop offset="0.107" stop-color="#00f7ff"/><stop offset="0.124" stop-color="#00fcff"/><stop offset="0.142" stop-color="#00fffd"/><stop offset="0.266" stop-color="#00fff4"/><stop offset="0.426" stop-color="#00ffa5"/><stop offset="0.497" stop-color="#00ff76"/><stop offset="0.675" stop-color="#00ff50"/><stop offset="0.746" stop-color="#00ff3d"/><stop offset="0.834" stop-color="#00ff06"/><stop offset="0.852" stop-color="#01ff00"/><stop offset="0.905" stop-color="#1dff00"/><stop offset="0.976" stop-color="#46ff00"/><stop offset="1.000" stop-color="#5dff00"/></linearGradient><linearGradient id="g59" x1="0" y1="0" x2="0" y2="1"><stop offset="0.000" stop-color="#00d6ff"/><stop offset="0.053" stop-color="#00e3ff"/><stop offset="0.107" stop-color="#00f7ff"/><stop offset="0.124" stop-color="#00fcff"/><stop offset="0.142" stop-color="#00fffd"/><stop offset="0.266" stop-color="#00fff4"/><stop offset="0.320" stop-color="#00ffda"/><stop offset="0.426" stop-color="#00ffa2"/><stop offset="0.497" stop-color="#00ff71"/><stop offset="0.675" stop-color="#00ff4f"/><stop offset="0.746" stop-color="#00ff3d"/><stop offset="0.834" stop-color="#00ff08"/><stop offset="0.852" stop-color="#00ff01"/><stop offset="0.870" stop-color="#06ff00"/><stop offset="0.959" stop-color="#3fff00"/><stop offset="0.976" stop-color="#47ff00"/><stop offset="1.000" stop-color="#5fff00"/></linearGradient><linearGradient id="g60" x1="0" y1="0" x2="0" y2="1"><stop offset="0.000" stop-color="#00d5ff"/><stop offset="0.053" stop-color="#00e3ff"/><stop offset="0.107" stop-color="#00f6ff"/><stop offset="0.124" stop-color="#00fcff"/><stop offset="0.142" stop-color="#00fffd"/><stop offset="0.266" stop-color="#00fff5"/><stop offset="0.320" stop-color="#00ffda"/><stop offset="0.426" stop-color="#00ff9f"/><stop offset="0.479" stop-color="#00ff77"/><stop offset="0.497" stop-color="#00ff6d"/><stop offset="0.675" stop-color="#00ff4e"/><stop offset="0.746" stop-color="#00ff3e"/><stop offset="0.834" stop-color="#00ff0a"/><stop offset="0.852" stop-color="#00ff03"/><stop offset="0.870" stop-color="#05ff00"/><stop offset="0.959" stop-color="#40ff00"/><stop offset="0.976" stop-color="#49ff00"/><stop offset="1.000" stop-color="#61ff00"/></linearGradient><linearGradient id="g61" x1="0" y1="0" x2="0" y2="1"><stop offset="0.000" stop-color="#00d5ff"/><stop offset="0.053" stop-color="#00e3ff"/><stop offset="0.107" stop-color="#00f6ff"/><stop offset="0.124" stop-color="#00fcff"/><stop offset="0.142" stop-color="#00fffd"/><stop offset="0.266" stop-color="#00fff6"/><stop offset="0.320" stop-color="#00ffd9"/><stop offset="0.373" stop-color="#00ffb9"/><stop offset="0.408" stop-color="#00ffa9"/><stop offset="0.479" stop-color="#00ff73"/><stop offset="0.497" stop-color="#00ff6a"/><stop offset="0.675" stop-color="#00ff4d"/><stop offset="0.746" stop-color="#00ff3e"/><stop offset="0.834" stop-color="#00ff0b"/><stop offset="0.852" stop-color="#00ff04"/><stop offset="0.870" stop-color="#03ff00"/><stop offset="0.959" stop-color="#41ff00"/><stop offset="0.976" stop-color="#4aff00"/><stop offset="1.000" stop-color="#63ff00"/></linearGradient><linearGradient id="g62" x1="0" y1="0" x2="0" y2="1"><stop offset="0.000" stop-color="#00d5ff"/><stop offset="0.053" stop-color="#00e3ff"/><stop offset="0.107" stop-color="#00f6ff"/><stop offset="0.124" stop-color="#00fbff"/><stop offset="0.142" stop-color="#00fffe"/><stop offset="0.266" stop-color="#00fff6"/><stop offset="0.320" stop-color="#00ffd9"/><stop offset="0.373" stop-color="#00ffb8"/><stop offset="0.408" stop-color="#00ffa8"/><stop offset="0.479" stop-color="#00ff71"/><stop offset="0.497" stop-color="#00ff67"/><stop offset="0.692" stop-color="#00ff48"/><stop offset="0.746" stop-color="#00ff3e"/><stop offset="0.834" stop-color="#00ff0c"/><stop offset="0.852" stop-color="#00ff05"/><stop offset="0.870" stop-color="#03ff00"/><stop offset="0.959" stop-color="#41ff00"/><stop offset="0.976" stop-color="#4bff00"/><stop offset="1.000" stop-color="#64ff00"/></linearGradient><linearGradient id="g63" x1="0" y1="0" x2="0" y2="1"><stop offset="0.000" stop-color="#00d5ff"/><stop offset="0.053" stop-color="#00e3ff"/><stop offset="0.107" stop-color="#00f6ff"/><stop offset="0.124" stop-color="#00fbff"/><stop offset="0.142" stop-color="#00fffe"/><stop offset="0.266" stop-color="#00fff7"/><stop offset="0.320" stop-color="#00ffd8"/><stop offset="0.373" stop-color="#00ffb6"/><stop offset="0.408" stop-color="#00ffa5"/><stop offset="0.479" stop-color="#00ff6d"/><stop offset="0.497" stop-color="#00ff63"/><stop offset="0.692" stop-color="#00ff48"/><stop offset="0.746" stop-color="#00ff3e"/><stop offset="0.834" stop-color="#00ff0c"/><stop offset="0.852" stop-color="#00ff06"/><stop offset="0.870" stop-color="#02ff00"/><stop offset="0.959" stop-color="#42ff00"/><stop offset="0.976" stop-color="#4bff00"/><stop offset="1.000" stop-color="#65ff00"/></linearGradient><linearGradient id="g64" x1="0" y1="0" x2="0" y2="1"><stop offset="0.000" stop-color="#00d6ff"/><stop offset="0.053" stop-color="#00e2ff"/><stop offset="0.107" stop-color="#00f5ff"/><stop offset="0.142" stop-color="#00ffff"/><stop offset="0.160" stop-color="#00fffd"/><stop offset="0.266" stop-color="#00fff7"/><stop offset="0.320" stop-color="#00ffd8"/><stop offset="0.373" stop-color="#00ffb4"/><stop offset="0.408" stop-color="#00ffa2"/><stop offset="0.479" stop-color="#00ff69"/><stop offset="0.497" stop-color="#00ff5e"/><stop offset="0.675" stop-color="#00ff4a"/><stop offset="0.746" stop-color="#00ff3e"/><stop offset="0.852" stop-color="#00ff06"/><stop offset="0.870" stop-color="#02ff00"/><stop offset="0.959" stop-color="#42ff00"/><stop offset="0.976" stop-color="#4cff00"/><stop offset="1.000" stop-color="#65ff00"/></linearGradient><linearGradient id="g65" x1="0" y1="0" x2="0" y2="1"><stop offset="0.000" stop-color="#00d6ff"/><stop offset="0.053" stop-color="#00e2ff"/><stop offset="0.124" stop-color="#00f9ff"/><stop offset="0.142" stop-color="#00feff"/><stop offset="0.160" stop-color="#00fffe"/><stop offset="0.266" stop-color="#00fff8"/><stop offset="0.302" stop-color="#00ffe4"/><stop offset="0.373" stop-color="#00ffb1"/><stop offset="0.408" stop-color="#00ff9f"/><stop offset="0.479" stop-color="#00ff63"/><stop offset="0.497" stop-color="#00ff58"/><stop offset="0.675" stop-color="#00ff49"/><stop offset="0.746" stop-color="#00ff3e"/><stop offset="0.852" stop-color="#00ff07"/><stop offset="0.870" stop-color="#01ff00"/><stop offset="0.959" stop-color="#43ff00"/><stop offset="0.976" stop-color="#4dff00"/><stop offset="1.000" stop-color="#66ff00"/></linearGradient><linearGradient id="g66" x1="0" y1="0" x2="0" y2="1"><stop offset="0.000" stop-color="#00d6ff"/><stop offset="0.053" stop-color="#00e2ff"/><stop offset="0.124" stop-color="#00f9ff"/><stop offset="0.160" stop-color="#00ffff"/><stop offset="0.178" stop-color="#00fffe"/><stop offset="0.266" stop-color="#00fff9"/><stop offset="0.302" stop-color="#00ffe4"/><stop offset="0.373" stop-color="#00ffae"/><stop offset="0.408" stop-color="#00ff9b"/><stop offset="0.479" stop-color="#00ff5d"/><stop offset="0.497" stop-color="#00ff52"/><stop offset="0.675" stop-color="#00ff48"/><stop offset="0.746" stop-color="#00ff3e"/><stop offset="0.852" stop-color="#00ff08"/><stop offset="0.870" stop-color="#01ff00"/><stop offset="0.959" stop-color="#44ff00"/><stop offset="0.976" stop-color="#4dff00"/><stop offset="1.000" stop-color="#67ff00"/></linearGradient><linearGradient id="g67" x1="0" y1="0" x2="0" y2="1"><stop offset="0.000" stop-color="#00d6ff"/><stop offset="0.053" stop-color="#00e2ff"/><stop offset="0.142" stop-color="#00fcff"/><stop offset="0.178" stop-color="#00ffff"/><stop offset="0.195" stop-color="#00fffe"/><stop offset="0.266" stop-color="#00fffa"/><stop offset="0.302" stop-color="#00ffe4"/><stop offset="0.373" stop-color="#00ffab"/><stop offset="0.408" stop-color="#00ff98"/><stop offset="0.479" stop-color="#00ff57"/><stop offset="0.497" stop-color="#00ff4c"/><stop offset="0.675" stop-color="#00ff46"/><stop offset="0.746" stop-color="#00ff3e"/><stop offset="0.852" stop-color="#00ff09"/><stop offset="0.870" stop-color="#00ff00"/><stop offset="0.959" stop-color="#44ff00"/><stop offset="0.976" stop-color="#4eff00"/><stop offset="1.000" stop-color="#68ff00"/></linearGradient><linearGradient id="g68" x1="0" y1="0" x2="0" y2="1"><stop offset="0.000" stop-color="#00d7ff"/><stop offset="0.160" stop-color="#00fdff"/><stop offset="0.178" stop-color="#00feff"/><stop offset="0.195" stop-color="#00ffff"/><stop offset="0.266" stop-color="#00fffa"/><stop offset="0.302" stop-color="#00ffe4"/><stop offset="0.373" stop-color="#00ffa8"/><stop offset="0.408" stop-color="#00ff94"/><stop offset="0.479" stop-color="#00ff52"/><stop offset="0.497" stop-color="#00ff47"/><stop offset="0.675" stop-color="#00ff45"/><stop offset="0.746" stop-color="#00ff3e"/><stop offset="0.870" stop-color="#00ff00"/><stop offset="0.888" stop-color="#0cff00"/><stop offset="0.959" stop-color="#45ff00"/><stop offset="0.976" stop-color="#4fff00"/><stop offset="1.000" stop-color="#68ff00"/></linearGradient><linearGradient id="g69" x1="0" y1="0" x2="0" y2="1"><stop offset="0.000" stop-color="#00d7ff"/><stop offset="0.160" stop-color="#00fdff"/><stop offset="0.195" stop-color="#00ffff"/><stop offset="0.213" stop-color="#00fffe"/><stop offset="0.266" stop-color="#00fffb"/><stop offset="0.302" stop-color="#00ffe4"/><stop offset="0.373" stop-color="#00ffa7"/><stop offset="0.408" stop-color="#00ff92"/><stop offset="0.479" stop-color="#00ff4e"/><stop offset="0.497" stop-color="#00ff42"/><stop offset="0.657" stop-color="#00ff45"/><stop offset="0.746" stop-color="#00ff3e"/><stop offset="0.870" stop-color="#00ff01"/><stop offset="0.888" stop-color="#0cff00"/><stop offset="0.959" stop-color="#45ff00"/><stop offset="0.976" stop-color="#4fff00"/><stop offset="1.000" stop-color="#69ff00"/></linearGradient><linearGradient id="g70" x1="0" y1="0" x2="0" y2="1"><stop offset="0.000" stop-color="#00d7ff"/><stop offset="0.160" stop-color="#00fcff"/><stop offset="0.195" stop-color="#00feff"/><stop offset="0.213" stop-color="#00fffe"/><stop offset="0.266" stop-color="#00fffb"/><stop offset="0.302" stop-color="#00ffe3"/><stop offset="0.373" stop-color="#00ffa5"/><stop offset="0.408" stop-color="#00ff90"/><stop offset="0.479" stop-color="#00ff4c"/><stop offset="0.497" stop-color="#00ff3f"/><stop offset="0.657" stop-color="#00ff44"/><stop offset="0.746" stop-color="#00ff3e"/><stop offset="0.870" stop-color="#00ff01"/><stop offset="0.888" stop-color="#0cff00"/><stop offset="0.959" stop-color="#46ff00"/><stop offset="0.976" stop-color="#50ff00"/><stop offset="1.000" stop-color="#69ff00"/></linearGradient><linearGradient id="g71" x1="0" y1="0" x2="0" y2="1"><stop offset="0.000" stop-color="#00d8ff"/><stop offset="0.160" stop-color="#00faff"/><stop offset="0.213" stop-color="#00ffff"/><stop offset="0.231" stop-color="#00fffe"/><stop offset="0.266" stop-color="#00fffc"/><stop offset="0.302" stop-color="#00ffe3"/><stop offset="0.373" stop-color="#00ffa1"/><stop offset="0.408" stop-color="#00ff8c"/><stop offset="0.479" stop-color="#00ff47"/><stop offset="0.497" stop-color="#00ff3b"/><stop offset="0.657" stop-color="#00ff43"/><stop offset="0.746" stop-color="#00ff3e"/><stop offset="0.870" stop-color="#00ff01"/><stop offset="0.888" stop-color="#0cff00"/><stop offset="0.959" stop-color="#46ff00"/><stop offset="0.976" stop-color="#50ff00"/><stop offset="1.000" stop-color="#69ff00"/></linearGradient><linearGradient id="g72" x1="0" y1="0" x2="0" y2="1"><stop offset="0.000" stop-color="#00d8ff"/><stop offset="0.160" stop-color="#00f9ff"/><stop offset="0.213" stop-color="#00feff"/><stop offset="0.231" stop-color="#00ffff"/><stop offset="0.266" stop-color="#00fffc"/><stop offset="0.302" stop-color="#00ffe2"/><stop offset="0.355" stop-color="#00ffaa"/><stop offset="0.408" stop-color="#00ff87"/><stop offset="0.479" stop-color="#00ff42"/><stop offset="0.497" stop-color="#00ff36"/><stop offset="0.550" stop-color="#00ff39"/><stop offset="0.639" stop-color="#00ff42"/><stop offset="0.746" stop-color="#00ff3e"/><stop offset="0.870" stop-color="#00ff01"/><stop offset="0.888" stop-color="#0cff00"/><stop offset="0.959" stop-color="#46ff00"/><stop offset="0.976" stop-color="#50ff00"/><stop offset="1.000" stop-color="#69ff00"/></linearGradient><linearGradient id="g73" x1="0" y1="0" x2="0" y2="1"><stop offset="0.000" stop-color="#00d9ff"/><stop offset="0.160" stop-color="#00f7ff"/><stop offset="0.231" stop-color="#00ffff"/><stop offset="0.249" stop-color="#00fffe"/><stop offset="0.266" stop-color="#00fffd"/><stop offset="0.302" stop-color="#00ffe1"/><stop offset="0.355" stop-color="#00ffa6"/><stop offset="0.426" stop-color="#00ff72"/><stop offset="0.479" stop-color="#00ff3d"/><stop offset="0.497" stop-color="#00ff31"/><stop offset="0.533" stop-color="#00ff32"/><stop offset="0.621" stop-color="#00ff41"/><stop offset="0.746" stop-color="#00ff3e"/><stop offset="0.870" stop-color="#00ff01"/><stop offset="0.888" stop-color="#0cff00"/><stop offset="0.959" stop-color="#46ff00"/><stop offset="0.976" stop-color="#50ff00"/><stop offset="1.000" stop-color="#69ff00"/></linearGradient><linearGradient id="g74" x1="0" y1="0" x2="0" y2="1"><stop offset="0.000" stop-color="#00d9ff"/><stop offset="0.160" stop-color="#00f6ff"/><stop offset="0.231" stop-color="#00feff"/><stop offset="0.249" stop-color="#00fffe"/><stop offset="0.266" stop-color="#00fffd"/><stop offset="0.302" stop-color="#00ffe0"/><stop offset="0.355" stop-color="#00ffa4"/><stop offset="0.426" stop-color="#00ff6e"/><stop offset="0.479" stop-color="#00ff3a"/><stop offset="0.497" stop-color="#00ff2e"/><stop offset="0.533" stop-color="#00ff2f"/><stop offset="0.621" stop-color="#00ff3f"/><stop offset="0.746" stop-color="#00ff3e"/><stop offset="0.870" stop-color="#00ff01"/><stop offset="0.888" stop-color="#0cff00"/><stop offset="0.959" stop-color="#46ff00"/><stop offset="0.976" stop-color="#50ff00"/><stop offset="1.000" stop-color="#69ff00"/></linearGradient></defs><g shape-rendering="crispEdges"><rect x="143" y="74" width="5" height="338" fill="url(#g0)"/><rect x="148" y="74" width="5" height="338" fill="url(#g1)"/><rect x="153" y="74" width="5" height="338" fill="url(#g2)"/><rect x="158" y="74" width="5" height="338" fill="url(#g3)"/><rect x="163" y="74" width="5" height="338" fill="url(#g4)"/><rect x="168" y="74" width="5" height="338" fill="url(#g5)"/><rect x="173" y="74" width="5" height="338" fill="url(#g6)"/><rect x="178" y="74" width="5" height="338" fill="url(#g7)"/><rect x="183" y="74" width="5" height="338" fill="url(#g8)"/><rect x="188" y="74" width="5" height="338" fill="url(#g9)"/><rect x="193" y="74" width="5" height="338" fill="url(#g10)"/><rect x="198" y="74" width="5" height="338" fill="url(#g11)"/><rect x="203" y="74" width="5" height="338" fill="url(#g12)"/><rect x="208" y="74" width="5" height="338" fill="url(#g13)"/><rect x="213" y="74" width="5" height="338" fill="url(#g14)"/><rect x="218" y="74" width="5" height="338" fill="url(#g15)"/><rect x="223" y="74" width="5" height="338" fill="url(#g16)"/><rect x="228" y="74" width="5" height="338" fill="url(#g17)"/><rect x="233" y="74" width="5" height="338" fill="url(#g18)"/><rect x="238" y="74" width="5" height="338" fill="url(#g19)"/><rect x="243" y="74" width="5" height="338" fill="url(#g20)"/><rect x="248" y="74" width="5" height="338" fill="url(#g21)"/><rect x="253" y="74" width="5" height="338" fill="url(#g22)"/><rect x="258" y="74" width="5" height="338" fill="url(#g23)"/><rect x="263" y="74" width="5" height="338" fill="url(#g24)"/><rect x="268" y="74" width="5" height="338" fill="url(#g25)"/><rect x="273" y="74" width="5" height="338" fill="url(#g26)"/><rect x="278" y="74" width="5" height="338" fill="url(#g27)"/><rect x="283" y="74" width="5" height="338" fill="url(#g28)"/><rect x="288" y="74" width="5" height="338" fill="url(#g29)"/><rect x="293" y="74" width="5" height="338" fill="url(#g30)"/><rect x="298" y="74" width="5" height="338" fill="url(#g31)"/><rect x="303" y="74" width="5" height="338" fill="url(#g32)"/><rect x="308" y="74" width="5" height="338" fill="url(#g33)"/><rect x="313" y="74" width="5" height="338" fill="url(#g34)"/><rect x="318" y="74" width="5" height="338" fill="url(#g35)"/><rect x="323" y="74" width="5" height="338" fill="url(#g36)"/><rect x="328" y="74" width="5" height="338" fill="url(#g37)"/><rect x="333" y="74" width="5" height="338" fill="url(#g38)"/><rect x="338" y="74" width="5" height="338" fill="url(#g39)"/><rect x="343" y="74" width="5" height="338" fill="url(#g40)"/><rect x="348" y="74" width="5" height="338" fill="url(#g41)"/><rect x="353" y="74" width="5" height="338" fill="url(#g42)"/><rect x="358" y="74" width="5" height="338" fill="url(#g43)"/><rect x="363" y="74" width="5" height="338" fill="url(#g44)"/><rect x="368" y="74" width="5" height="338" fill="url(#g45)"/><rect x="373" y="74" width="5" height="338" fill="url(#g46)"/><rect x="378" y="74" width="5" height="338" fill="url(#g47)"/><rect x="383" y="74" width="5" height="338" fill="url(#g48)"/><rect x="388" y="74" width="5" height="338" fill="url(#g49)"/><rect x="393" y="74" width="5" height="338" fill="url(#g50)"/><rect x="398" y="74" width="5" height="338" fill="url(#g51)"/><rect x="403" y="74" width="5" height="338" fill="url(#g52)"/><rect x="408" y="74" width="5" height="338" fill="url(#g53)"/><rect x="413" y="74" width="5" height="338" fill="url(#g54)"/><rect x="418" y="74" width="5" height="338" fill="url(#g55)"/><rect x="423" y="74" width="5" height="338" fill="url(#g56)"/><rect x="428" y="74" width="5" height="338" fill="url(#g57)"/><rect x="433" y="74" width="5" height="338" fill="url(#g58)"/><rect x="438" y="74" width="5" height="338" fill="url(#g59)"/><rect x="443" y="74" width="5" height="338" fill="url(#g60)"/><rect x="448" y="74" width="5" height="338" fill="url(#g61)"/><rect x="453" y="74" width="5" height="338" fill="url(#g62)"/><rect x="458" y="74" width="5" height="338" fill="url(#g63)"/><rect x="463" y="74" width="5" height="338" fill="url(#g64)"/><rect x="468" y="74" width="5" height="338" fill="url(#g65)"/><rect x="473" y="74" width="5" height="338" fill="url(#g66)"/><rect x="478" y="74" width="5" height="338" fill="url(#g67)"/><rect x="483" y="74" width="5" height="338" fill="url(#g68)"/><rect x="488" y="74" width="5" height="338" fill="url(#g69)"/><rect x="493" y="74" width="5" height="338" fill="url(#g70)"/><rect x="498" y="74" width="5" height="338" fill="url(#g71)"/><rect x="503" y="74" width="5" height="338" fill="url(#g72)"/><rect x="508" y="74" width="5" height="338" fill="url(#g73)"/><rect x="513" y="74" width="4" height="338" fill="url(#g74)"/></g><clipPath id="mapclip"><rect x="143" y="74" width="374" height="338"/></clipPath><g stroke="#000" stroke-width="1" stroke-dasharray="2 2" fill="none" shape-rendering="crispEdges"><polyline points="147.5 74.0 146.6 107.8 145.7 141.6 145.0 175.4 144.3 209.2 143.7 243.0 143.2 276.8 142.8 310.6 142.4 344.4 142.1 378.2 141.9 412.0"/><polyline points="185.5 74.0 184.8 107.8 184.2 141.6 183.7 175.4 183.2 209.2 182.8 243.0 182.4 276.8 182.1 310.6 181.8 344.4 181.6 378.2 181.5 412.0"/><polyline points="223.5 74.0 223.1 107.8 222.7 141.6 222.4 175.4 222.0 209.2 221.8 243.0 221.6 276.8 221.4 310.6 221.2 344.4 221.1 378.2 221.1 412.0"/><polyline points="261.5 74.0 261.3 107.8 261.2 141.6 261.0 175.4 260.9 209.2 260.8 243.0 260.7 276.8 260.7 310.6 260.7 344.4 260.6 378.2 260.6 412.0"/><polyline points="299.5 74.0 299.6 107.8 299.6 141.6 299.7 175.4 299.8 209.2 299.9 243.0 299.9 276.8 300.0 310.6 300.1 344.4 300.1 378.2 300.2 412.0"/><polyline points="337.5 74.0 337.8 107.8 338.1 141.6 338.4 175.4 338.7 209.2 338.9 243.0 339.1 276.8 339.3 310.6 339.5 344.4 339.6 378.2 339.8 412.0"/><polyline points="375.5 74.0 376.1 107.8 376.6 141.6 377.1 175.4 377.5 209.2 377.9 243.0 378.3 276.8 378.6 310.6 378.9 344.4 379.2 378.2 379.4 412.0"/><polyline points="413.5 74.0 414.3 107.8 415.1 141.6 415.8 175.4 416.4 209.2 417.0 243.0 417.5 276.8 417.9 310.6 418.3 344.4 418.7 378.2 418.9 412.0"/><polyline points="451.5 74.0 452.6 107.8 453.5 141.6 454.4 175.4 455.3 209.2 456.0 243.0 456.7 276.8 457.2 310.6 457.7 344.4 458.2 378.2 458.5 412.0"/><polyline points="489.5 74.0 490.8 107.8 492.0 141.6 493.1 175.4 494.1 209.2 495.0 243.0 495.8 276.8 496.6 310.6 497.2 344.4 497.7 378.2 498.1 412.0"/><polyline points="143.0 85.5 173.3 85.9 203.7 86.1 234.0 86.3 264.3 86.4 294.7 86.3 325.0 86.2 355.3 85.9 385.7 85.6 416.0 85.1 446.3 84.5 476.7 83.8 507.0 83.1"/><polyline points="143.0 125.0 173.5 125.3 204.0 125.6 234.5 125.8 265.0 125.8 295.5 125.8 326.0 125.7 356.5 125.5 387.0 125.2 417.5 124.8 448.0 124.3 478.5 123.7 509.0 123.0"/><polyline points="143.0 164.0 173.8 164.3 204.5 164.6 235.2 164.7 266.0 164.8 296.8 164.8 327.5 164.7 358.2 164.5 389.0 164.3 419.8 163.9 450.5 163.5 481.2 163.0 512.0 162.4"/><polyline points="143.0 203.8 173.7 204.1 204.3 204.3 235.0 204.5 265.7 204.6 296.3 204.6 327.0 204.6 357.7 204.5 388.3 204.3 419.0 204.1 449.7 203.8 480.3 203.4 511.0 203.0"/><polyline points="143.0 243.8 174.2 244.0 205.3 244.2 236.5 244.3 267.7 244.4 298.8 244.4 330.0 244.3 361.2 244.2 392.3 244.1 423.5 243.9 454.7 243.6 485.8 243.3 517.0 242.9"/><polyline points="143.0 283.0 174.0 283.2 205.0 283.3 236.0 283.4 267.0 283.5 298.0 283.5 329.0 283.5 360.0 283.4 391.0 283.3 422.0 283.1 453.0 282.9 484.0 282.7 515.0 282.4"/><polyline points="143.0 323.5 174.2 323.6 205.3 323.7 236.5 323.7 267.7 323.8 298.8 323.8 330.0 323.7 361.2 323.7 392.3 323.6 423.5 323.5 454.7 323.3 485.8 323.1 517.0 322.9"/><polyline points="143.0 363.0 174.2 363.0 205.3 363.1 236.5 363.1 267.7 363.0 298.8 363.0 330.0 363.0 361.2 362.9 392.3 362.9 423.5 362.8 454.7 362.7 485.8 362.6 517.0 362.5"/><polyline points="143.0 402.5 174.2 402.5 205.3 402.5 236.5 402.5 267.7 402.5 298.8 402.5 330.0 402.5 361.2 402.5 392.3 402.5 423.5 402.5 454.7 402.5 485.8 402.5 517.0 402.5"/></g><g clip-path="url(#mapclip)" shape-rendering="crispEdges"><g stroke="#000" fill="none" stroke-linejoin="round" stroke-linecap="round"><path d="M143.0 89.9 L147.5 90.5 L152.5 90.5 L153.8 88.6 L157.5 87.0 L162.5 88.0 L168.1 86.8 L172.5 89.2 L177.5 90.5 L181.2 92.4 L185.6 92.0 L188.1 94.2 L188.1 97.4 L191.2 99.2 L194.0 102.0 L198.8 103.6 L203.8 104.9 L208.8 105.5 L212.5 108.6 L216.2 111.8 L216.9 114.9 L215.0 117.4 L211.9 118.0 L211.9 121.8 L209.4 122.4 L207.5 119.9 L208.1 117.8 L205.0 116.1 L200.0 115.5 L195.0 116.1 L190.0 115.5 L185.6 116.1 L182.5 118.6 L178.8 119.9 L174.4 119.9 L173.1 116.8 L170.0 117.8 L165.0 119.2 L161.2 119.9 L165.6 120.5 L163.8 124.2 L160.6 128.0 L158.1 132.4 L155.6 133.0 L154.4 129.2 L152.5 125.5 L150.6 121.8 L147.5 120.5 L145.0 119.9 L143.0 119.0" stroke-width="2.9"/><path d="M153.8 88.6 L153.5 93.0 L152.5 96.8 L154.0 100.5 L152.5 104.2 L149.4 107.0 L146.2 108.0 L151.9 109.2 L152.5 112.4 L156.2 114.9 L151.2 116.8 L148.8 118.0 L151.9 121.1 L152.5 125.5" stroke-width="2.9"/><path d="M238.7 115.8 L242.4 115.1 L252.4 116.2 L261.9 116.2 L266.9 117.0 L267.5 120.0 L264.4 123.6 L262.0 125.3 L252.4 125.7 L242.4 126.2 L239.1 124.8 L240.0 121.2 L238.1 118.8 Z" stroke-width="2.9"/><path d="M268.8 123.8 L272.5 121.9 L276.2 118.8" stroke-width="2.9"/><path d="M342.8 159.8 L344.5 158.5 L346.4 160.3 L346.6 163.3 L346.5 166.6 L344.5 166.5 L343.4 163.3 Z" stroke-width="2.3"/><path d="M346.9 155.6 L350.0 155.0 L351.2 158.8 L355.0 159.4 L358.1 157.5" stroke-width="2.4"/><path d="M348.9 173.1 L351.1 173.5 L352.6 175.4 L352.6 179.2 L350.6 180.0 L349.9 177.3 L348.9 175.0 Z" stroke-width="2.3"/><path d="M355.0 188.8 L357.2 188.0 L359.5 189.7 L360.8 192.8 L361.5 195.5 L359.7 196.2 L357.3 194.6 L356.1 192.0 Z" stroke-width="2.6"/><path d="M358.8 202.9 L360.5 205.2 L360.6 207.5 L359.3 209.5 L357.6 208.5 L357.5 206.0 Z" stroke-width="2.0"/><path d="M384.7 218.5 L386.9 218.6 L388.3 220.2 L388.5 221.8 L386.9 222.7 L385.7 221.3 Z" stroke-width="2.0"/><path d="M143.0 238.8 L146.9 235.6 L151.9 234.8 L157.5 236.2 L160.6 240.0 L160.0 243.8 L156.9 246.9 L151.9 248.8 L146.9 250.0 L144.4 253.1 L144.4 257.5 L146.2 260.6 L148.8 263.1 L152.5 265.0 L157.5 263.8 L162.5 261.2 L168.8 258.8 L176.2 256.2 L181.2 255.0 L184.0 254.5 L188.1 255.0 L192.5 254.0 L197.5 253.1 L202.5 254.0 L207.5 256.2 L211.9 259.4 L215.0 263.1 L216.2 267.5 L218.1 271.9 L222.5 274.0 L230.0 272.8 L240.0 271.9 L250.0 271.5 L256.2 271.2 L259.4 273.1 L261.2 276.9" stroke-width="2.9"/><path d="M261.2 276.9 L266.2 279.4 L271.2 281.2 L276.2 282.8 L280.0 283.1 L285.0 281.9 L288.8 279.4" stroke-width="3.2"/><path d="M282.0 283.1 L285.8 279.4 L290.8 276.2 L295.8 273.8 L300.8 271.9 L308.2 270.6" stroke-width="3.4"/><path d="M308.2 270.6 L315.8 269.8 L323.2 269.0 L332.0 268.8 L339.5 269.4 L347.0 268.8 L354.5 267.5 L361.0 266.5" stroke-width="2.4"/><path d="M141.0 253.8 L144.4 253.8" stroke-width="2.9"/><path d="M181.2 255.0 L178.1 251.9 L176.9 247.5 L177.5 243.1 L180.6 240.2 L183.8 240.0 L186.5 243.1 L187.2 248.1 L188.1 251.9 L186.9 254.4 L183.8 252.5 L181.2 255.0" stroke-width="2.9"/><path d="M152.5 265.6 L153.1 270.0 L155.0 275.0 L158.1 280.0 L160.6 285.0 L161.5 290.0 L160.6 295.0 L157.5 298.8 L152.5 301.5 L149.4 301.0 L147.5 297.5 L145.6 293.8 L143.8 290.0 L143.8 285.0 L145.6 280.0 L148.8 275.6 L151.9 272.5 L152.5 268.0" stroke-width="2.9"/><path d="M150.5 263.5 L152.5 265.6 L153.0 268.5" stroke-width="3.5"/><path d="M323.2 270.6 L319.5 273.8 L318.9 278.8 L319.5 283.8 L325.8 284.4 L327.6 281.2 L325.8 276.9 L325.1 274.4 L329.5 278.8 L332.0 283.1 L332.0 287.5 L333.2 291.9 L335.8 290.0 L337.0 286.2 L340.8 285.0 L342.0 288.8 L344.5 291.9 L345.8 287.5 L349.5 286.9 L353.2 290.0 L358.2 292.5 L362.0 295.6 L364.0 299.0" stroke-width="2.6"/><path d="M350.0 268.5 L361.0 266.5 L360.0 270.5 L359.0 274.0 L360.3 277.5 L358.8 281.3 L350.0 281.8 L340.8 282.0 L331.0 282.3" stroke-width="2.6"/><path d="M350.0 268.5 L349.6 280.0" stroke-width="2.4"/><path d="M368.1 311.9 L372.5 310.6 L376.9 311.2 L381.2 314.4 L387.5 317.5 L393.8 321.9 L400.0 327.5 L405.0 331.9 L408.8 335.6 L409.0 341.2 L413.8 345.0 L418.1 346.2 L422.5 350.6 L427.5 355.6 L431.9 357.5 L435.0 360.6 L435.6 363.1 L441.2 363.1 L446.2 363.1 L451.2 364.4 L456.2 365.6 L460.0 368.8 L460.6 364.4 L465.0 363.1 L471.2 363.1 L482.5 363.1 L490.0 363.5 L495.0 364.4 L498.8 366.2 L503.8 368.1 L508.8 370.6 L515.0 371.9 L517.5 372.2" stroke-width="2.6"/><path d="M409.0 341.2 L406.9 345.0 L406.2 350.0 L405.6 355.0 L404.6 356.5" stroke-width="3.0"/><path d="M381.2 317.5 L377.5 321.2 L373.1 323.8 L368.8 326.9 L365.6 331.2 L365.6 335.6 L368.1 339.4 L373.8 340.6 L373.1 343.8 L368.8 345.6 L362.5 347.2 L357.5 348.1 L355.0 351.2 L355.6 356.2 L355.6 360.0 L351.9 363.8 L355.0 368.8 L360.0 373.8 L365.6 378.8 L370.6 378.1 L375.0 376.9 L379.4 380.0 L379.4 386.2 L376.9 391.2 L381.2 393.1 L385.6 395.0 L386.2 400.0 L388.8 403.1 L386.9 407.5 L383.1 410.6 L381.9 412.5" stroke-width="2.9"/><path d="M365.6 378.8 L368.1 383.1 L364.4 387.5 L360.0 391.2 L355.0 392.5 L351.0 393.8 L346.0 396.9 L341.0 398.8 L336.6 401.2 L332.2 399.4 L328.5 400.0 L324.8 403.1 L326.0 407.5 L324.1 410.0 L320.4 410.6 L317.2 406.9 L314.1 403.8 L309.8 405.0 L306.0 403.1 L299.1 403.8 L296.0 400.0 L289.8 399.4 L285.4 398.1" stroke-width="2.9"/><path d="M285.4 398.8 L288.5 403.1 L293.5 407.5 L297.9 411.2 L299.0 413.0" stroke-width="2.9"/><path d="M324.1 410.0 L324.5 413.0" stroke-width="2.9"/><path d="M435.6 363.1 L435.0 367.5 L433.8 372.5 L432.5 376.0 L433.0 378.8 L427.5 381.9 L422.5 384.4 L421.2 390.0 L419.4 395.0 L417.5 401.2 L420.0 406.2 L423.8 410.0 L426.2 411.9 L427.0 413.0" stroke-width="2.9"/><path d="M498.1 366.2 L496.2 371.2 L492.5 376.2 L489.4 380.0 L488.1 385.0 L488.8 391.2 L490.0 396.2 L492.5 401.2 L495.6 405.6 L498.1 410.0 L498.1 413.0" stroke-width="2.9"/><path d="M142.5 342.5 L147.5 341.9 L155.0 342.5 L158.8 343.8 L162.5 343.1 L166.2 341.0 L170.6 341.2 L173.8 343.8 L177.5 344.4 L180.0 343.5 L183.1 346.9 L187.5 352.5 L192.5 359.4 L196.9 361.2 L200.0 359.0 L206.2 359.8 L212.5 358.8 L220.0 359.0 L224.4 356.9 L228.8 357.5 L231.9 358.8 L235.0 356.9 L237.5 355.0" stroke-width="2.9"/><path d="M231.9 358.8 L232.5 363.1 L229.4 366.9 L228.1 372.5 L225.0 375.6 L224.4 381.2 L225.0 386.2 L224.0 391.2 L225.0 396.2 L225.6 400.0 L227.5 404.0 L230.0 408.0 L232.5 411.0 L233.0 413.0" stroke-width="2.9"/><path d="M354.6 227.5 L351.2 231.0 L349.2 235.0 L347.3 238.5" stroke-width="2.5"/><path d="M471.4 391.6 L474.2 387.8 L475.9 383.6 L479.2 384.0 L481.1 385.4 L480.6 388.2 L478.7 390.1 L476.0 391.4 L473.1 392.3 Z" stroke-width="3.8"/><path d="M238.5 342.0 L240.0 340.0 L245.0 338.1 L248.8 335.6 L251.5 334.3" stroke-width="2.8"/></g><g fill="#000" stroke="#000" stroke-width="1.5" stroke-linejoin="round"><path d="M284.5 396.8 L286.6 396.8 L287.0 399.0 L285.0 399.8 L284.0 398.6 Z"/><path d="M147.5 261.5 L152.0 264.0 L157.0 263.0 L154.5 267.0 L153.0 271.0 L151.5 267.5 Z"/><path d="M191.2 99.2 L196.2 98.6 L200.0 98.0 L201.5 99.9 L200.6 102.4 L197.5 103.0 L192.5 103.6 Z"/><path d="M145.6 106.3 L152.3 106.1 L152.5 109.2 L146.0 109.5 Z"/><path d="M145.6 110.8 L152.0 110.5 L157.5 113.5 L157.3 116.5 L151.0 117.2 L146.0 115.5 Z"/><path d="M160.5 119.0 L166.0 119.0 L166.0 121.0 L160.5 121.0 Z"/><path d="M233.0 117.9 L233.5 117.9 L233.5 118.5 L233.0 118.5 Z"/><path d="M224.0 122.5 L225.0 122.5 L225.0 123.7 L224.0 123.7 Z"/><path d="M279.4 117.5 L285.0 115.6 L290.0 114.4 L295.0 112.5 L295.0 115.6 L290.0 118.8 L283.8 120.0 L280.0 119.4 Z"/><path d="M282.5 130.0 L289.5 130.0 L289.5 131.5 L282.5 131.5 Z"/><path d="M309.8 113.7 L311.5 113.7 L311.5 114.1 L309.8 114.1 Z"/><path d="M313.5 119.4 L321.0 119.4 L320.4 122.5 L322.9 125.6 L324.1 128.1 L321.0 128.8 L317.9 125.6 L315.4 123.8 L314.8 120.6 Z"/><path d="M318.2 134.8 L320.4 134.0 L324.8 137.8 L328.8 141.9 L328.2 144.4 L326.0 144.8 L322.9 141.2 L319.1 136.9 Z"/><path d="M338.5 130.0 L342.9 130.6 L344.1 135.0 L341.6 135.6 L339.8 132.5 Z"/><path d="M338.5 142.5 L342.2 141.2 L345.8 143.1 L345.8 145.6 L342.2 146.9 L339.1 146.2 Z"/><path d="M333.2 148.5 L336.2 148.1 L337.0 151.2 L334.8 153.1 L333.0 152.2 Z"/><path d="M351.0 164.6 L354.0 164.6 L354.4 167.6 L351.0 168.0 Z"/><path d="M346.9 155.6 L350.0 155.0 L351.2 158.8 L355.0 159.4 L358.1 157.5 L357.5 159.4 L353.8 160.6 L349.4 160.0 Z"/><path d="M353.0 217.2 L356.7 216.9 L356.3 221.5 L355.4 223.7 L356.6 225.6 L354.4 227.1 L352.9 224.5 L352.8 220.5 Z"/><path d="M346.0 238.5 L348.1 239.0 L347.6 242.8 L344.5 245.2 L343.0 244.6 L343.6 241.2 L345.0 239.6 Z"/><path d="M181.2 231.2 L183.8 231.9 L186.5 235.6 L184.4 236.9 L181.9 233.8 Z"/><path d="M198.1 236.2 L201.2 235.2 L206.2 240.0 L209.0 243.1 L207.5 244.4 L202.5 241.9 L199.4 238.8 Z"/><path d="M213.5 237.5 L216.2 237.2 L218.8 240.6 L219.8 243.8 L217.2 244.0 L215.0 241.2 Z"/><path d="M227.5 244.1 L229.0 244.1 L229.0 244.7 L227.5 244.7 Z"/><path d="M231.5 244.1 L232.5 244.1 L232.5 244.7 L231.5 244.7 Z"/><path d="M241.2 245.6 L250.0 245.6 L250.6 249.4 L245.0 250.6 L241.9 248.8 Z"/><path d="M257.0 247.0 L259.5 247.0 L259.5 249.0 L257.0 249.0 Z"/><path d="M286.2 245.0 L289.0 245.3 L292.5 247.0 L292.5 248.5 L288.0 248.3 Z"/><path d="M271.8 264.7 L277.2 264.7 L277.2 267.1 L271.8 267.1 Z"/><path d="M291.4 261.9 L296.4 261.0 L300.8 260.2 L304.5 261.2 L304.5 265.0 L302.0 266.9 L299.5 270.0 L297.0 270.6 L294.5 268.8 L295.8 265.6 L291.4 265.6 Z"/><path d="M316.5 255.5 L318.3 255.5 L318.3 257.1 L316.5 257.1 Z"/><path d="M361.2 259.4 L365.0 256.5 L368.8 256.2 L368.5 259.4 L365.0 261.2 L361.9 261.9 Z"/><path d="M223.8 278.8 L229.9 278.8 L229.9 282.5 L223.8 282.5 Z"/><path d="M238.8 285.7 L243.1 285.7 L243.1 288.7 L238.8 288.7 Z"/><path d="M232.5 300.7 L235.5 300.7 L235.5 304.9 L232.5 304.9 Z"/><path d="M330.0 284.4 L338.8 284.6 L338.5 290.0 L335.0 292.5 L331.0 292.0 Z"/><path d="M331.9 296.9 L335.0 297.0 L337.5 300.5 L337.5 303.8 L334.5 303.5 L332.0 300.5 Z"/><path d="M335.0 308.5 L336.0 308.5 L336.0 309.0 L335.0 309.0 Z"/><path d="M355.0 315.0 L355.6 305.0 L358.1 300.0 L361.9 296.2 L365.0 298.1 L366.9 303.8 L368.1 310.0 L368.1 312.0 L362.5 313.1 L358.8 315.6 Z"/><path d="M329.4 313.1 L332.5 310.0 L340.0 309.4 L350.0 310.6 L355.0 308.8 L358.0 312.0 L353.8 316.2 L350.0 313.8 L342.5 313.1 L335.0 312.5 L330.6 313.8 Z"/><path d="M318.8 327.5 L323.1 328.1 L327.5 328.8 L327.8 333.1 L325.6 336.9 L323.8 341.2 L323.8 347.5 L320.6 347.2 L319.0 342.5 L321.2 338.1 L319.4 333.8 L318.1 330.6 Z"/><path d="M251.8 331.2 L253.4 331.2 L253.4 331.9 L251.8 331.9 Z"/><path d="M260.5 328.7 L263.1 328.7 L263.1 330.0 L260.5 330.0 Z"/><path d="M268.1 323.9 L272.0 324.0 L276.0 325.8 L276.0 327.7 L271.0 327.5 L268.2 325.8 Z"/><path d="M288.7 324.4 L291.3 324.4 L291.3 327.1 L288.7 327.1 Z"/><path d="M293.7 322.6 L295.7 322.6 L295.7 323.2 L293.7 323.2 Z"/><path d="M305.6 319.6 L307.5 319.6 L307.5 321.6 L305.6 321.6 Z"/><path d="M323.7 315.6 L325.4 315.6 L325.4 317.3 L323.7 317.3 Z"/><path d="M238.5 348.1 L240.1 348.1 L240.1 350.0 L238.5 350.0 Z"/><path d="M238.6 340.5 L243.2 340.5 L243.2 341.9 L238.6 341.9 Z"/><path d="M472.8 362.0 L476.0 361.3 L480.2 362.0 L480.2 365.3 L476.0 366.0 L472.8 365.3 Z"/></g></g><path fill="#000" fill-rule="evenodd" d="M139 70H521V416H139ZM143 74H517V412H143Z"/><rect x="140.0" y="71" width="7.5" height="2" fill="#fff"/><rect x="185.5" y="71" width="38.0" height="2" fill="#fff"/><rect x="261.5" y="71" width="38.0" height="2" fill="#fff"/><rect x="337.5" y="71" width="38.0" height="2" fill="#fff"/><rect x="413.5" y="71" width="38.0" height="2" fill="#fff"/><rect x="518.0" y="71" width="2.0" height="2" fill="#fff"/><rect x="181.5" y="413" width="39.6" height="2" fill="#fff"/><rect x="260.6" y="413" width="39.6" height="2" fill="#fff"/><rect x="339.8" y="413" width="39.6" height="2" fill="#fff"/><rect x="418.9" y="413" width="39.6" height="2" fill="#fff"/><rect x="140" y="86.0" width="2" height="39.0" fill="#fff"/><rect x="140" y="164.0" width="2" height="40.0" fill="#fff"/><rect x="140" y="244.0" width="2" height="39.0" fill="#fff"/><rect x="140" y="322.5" width="2" height="40.0" fill="#fff"/><rect x="140" y="402.5" width="2" height="12.5" fill="#fff"/><rect x="518" y="84.0" width="2" height="37.5" fill="#fff"/><rect x="518" y="163.0" width="2" height="38.5" fill="#fff"/><rect x="518" y="243.0" width="2" height="39.0" fill="#fff"/><rect x="518" y="322.5" width="2" height="39.5" fill="#fff"/><rect x="518" y="402.5" width="2" height="12.5" fill="#fff"/><g font-family="Liberation Sans, sans-serif" font-size="13" fill="#000"><text x="148.0" y="67.7" text-anchor="middle">-72</text><text x="224.1" y="67.7" text-anchor="middle">-68</text><text x="299.8" y="67.7" text-anchor="middle">-64</text><text x="375.3" y="67.7" text-anchor="middle">-60</text><text x="451.2" y="67.7" text-anchor="middle">-56</text><text x="142.2" y="427" text-anchor="middle">-72</text><text x="222.2" y="427" text-anchor="middle">-68</text><text x="300.4" y="427" text-anchor="middle">-64</text><text x="379.6" y="427" text-anchor="middle">-60</text><text x="459.3" y="427" text-anchor="middle">-56</text><text font-size="14.5" transform="translate(137.2 85.3) rotate(-90)" text-anchor="middle">20</text><text font-size="14.5" transform="translate(522.8 83.8) rotate(90)" text-anchor="middle">20</text><text font-size="14.5" transform="translate(137.2 164.0) rotate(-90)" text-anchor="middle">16</text><text font-size="14.5" transform="translate(522.8 162.5) rotate(90)" text-anchor="middle">16</text><text font-size="14.5" transform="translate(137.2 243.0) rotate(-90)" text-anchor="middle">12</text><text font-size="14.5" transform="translate(522.8 242.5) rotate(90)" text-anchor="middle">12</text><text font-size="14.5" transform="translate(137.2 323.0) rotate(-90)" text-anchor="middle">8</text><text font-size="14.5" transform="translate(522.8 322.5) rotate(90)" text-anchor="middle">8</text><text font-size="14.5" transform="translate(137.2 402.5) rotate(-90)" text-anchor="middle">4</text><text font-size="14.5" transform="translate(522.8 402.0) rotate(90)" text-anchor="middle">4</text></g></svg>
<div id="cb"></div>
<div class="cl" style="left:9.3px">0</div><div class="cl" style="left:80.7px">2</div><div class="cl" style="left:152.1px">4</div><div class="cl" style="left:223.5px">6</div><div class="cl" style="left:294.9px">8</div><div class="cl" style="left:366.3px">10</div><div class="cl" style="left:437.7px">12</div><div class="cl" style="left:509.1px">14</div><div class="cl" style="left:580.5px">16</div><div class="cl" style="left:651.9px">18</div>
</body></html>
